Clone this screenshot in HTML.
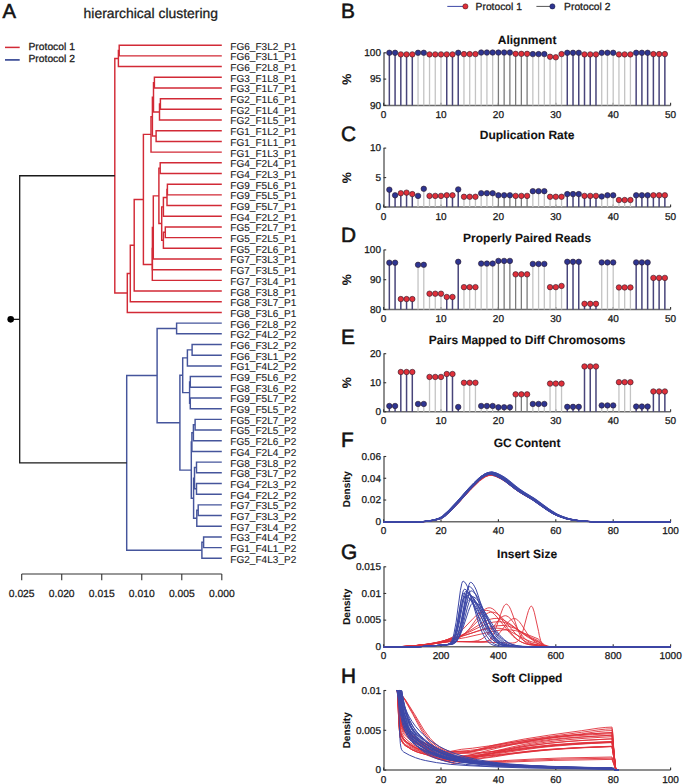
<!DOCTYPE html>
<html><head><meta charset="utf-8"><style>
html,body{margin:0;padding:0;background:#fff;}
body{width:685px;height:784px;overflow:hidden;font-family:"Liberation Sans",sans-serif;}
svg{display:block;}
</style></head><body>
<svg width="685" height="784" viewBox="0 0 685 784"><style>text{text-rendering:geometricPrecision;stroke:#1a1a1a;stroke-width:0.28px} text[font-weight=bold]{stroke-width:0.1px} .lab text{stroke-width:0.1px}</style><path d="M118.40,58.56H114.80V292.98H127.30" fill="none" stroke="#d22a36" stroke-width="1.45"/>
<path d="M119.20,50.55H118.40V66.58H221.80" fill="none" stroke="#d22a36" stroke-width="1.45"/>
<path d="M221.80,45.20H119.20V55.89H221.80" fill="none" stroke="#d22a36" stroke-width="1.45"/>
<path d="M130.30,273.51H127.30V312.45H221.80" fill="none" stroke="#d22a36" stroke-width="1.45"/>
<path d="M134.20,245.25H130.30V301.76H221.80" fill="none" stroke="#d22a36" stroke-width="1.45"/>
<path d="M143.40,199.43H134.20V291.07H221.80" fill="none" stroke="#d22a36" stroke-width="1.45"/>
<path d="M151.00,134.39H143.40V264.47H152.30" fill="none" stroke="#d22a36" stroke-width="1.45"/>
<path d="M152.40,116.69H151.00V152.10H221.80" fill="none" stroke="#d22a36" stroke-width="1.45"/>
<path d="M153.50,97.31H152.40V136.06H156.10" fill="none" stroke="#d22a36" stroke-width="1.45"/>
<path d="M154.40,82.62H153.50V112.01H159.50" fill="none" stroke="#d22a36" stroke-width="1.45"/>
<path d="M221.80,77.27H154.40V87.96H221.80" fill="none" stroke="#d22a36" stroke-width="1.45"/>
<path d="M160.40,104.00H159.50V120.03H221.80" fill="none" stroke="#d22a36" stroke-width="1.45"/>
<path d="M221.80,98.65H160.40V109.34H221.80" fill="none" stroke="#d22a36" stroke-width="1.45"/>
<path d="M221.80,130.72H156.10V141.41H221.80" fill="none" stroke="#d22a36" stroke-width="1.45"/>
<path d="M152.40,248.56H152.30V280.38H221.80" fill="none" stroke="#d22a36" stroke-width="1.45"/>
<path d="M153.30,227.43H152.40V269.69H221.80" fill="none" stroke="#d22a36" stroke-width="1.45"/>
<path d="M158.90,195.86H153.30V259.00H221.80" fill="none" stroke="#d22a36" stroke-width="1.45"/>
<path d="M160.20,168.13H158.90V223.59H161.70" fill="none" stroke="#d22a36" stroke-width="1.45"/>
<path d="M221.80,162.79H160.20V173.48H221.80" fill="none" stroke="#d22a36" stroke-width="1.45"/>
<path d="M163.40,206.89H161.70V240.29H163.40" fill="none" stroke="#d22a36" stroke-width="1.45"/>
<path d="M167.00,197.53H163.40V216.24H221.80" fill="none" stroke="#d22a36" stroke-width="1.45"/>
<path d="M167.40,189.52H167.00V205.55H221.80" fill="none" stroke="#d22a36" stroke-width="1.45"/>
<path d="M221.80,184.17H167.40V194.86H221.80" fill="none" stroke="#d22a36" stroke-width="1.45"/>
<path d="M165.30,232.28H163.40V248.31H221.80" fill="none" stroke="#d22a36" stroke-width="1.45"/>
<path d="M221.80,226.93H165.30V237.62H221.80" fill="none" stroke="#d22a36" stroke-width="1.45"/>
<path d="M157.10,375.59H126.70V550.30H201.90" fill="none" stroke="#45559c" stroke-width="1.45"/>
<path d="M176.60,328.49H157.10V422.69H179.90" fill="none" stroke="#45559c" stroke-width="1.45"/>
<path d="M221.80,323.14H176.60V333.83H221.80" fill="none" stroke="#45559c" stroke-width="1.45"/>
<path d="M182.70,375.25H179.90V470.13H191.30" fill="none" stroke="#45559c" stroke-width="1.45"/>
<path d="M187.40,357.88H182.70V392.62H189.60" fill="none" stroke="#45559c" stroke-width="1.45"/>
<path d="M192.10,349.87H187.40V365.90H221.80" fill="none" stroke="#45559c" stroke-width="1.45"/>
<path d="M221.80,344.52H192.10V355.21H221.80" fill="none" stroke="#45559c" stroke-width="1.45"/>
<path d="M190.30,381.93H189.60V403.31H190.30" fill="none" stroke="#45559c" stroke-width="1.45"/>
<path d="M221.80,376.59H190.30V387.28H221.80" fill="none" stroke="#45559c" stroke-width="1.45"/>
<path d="M221.80,397.97H190.30V408.66H221.80" fill="none" stroke="#45559c" stroke-width="1.45"/>
<path d="M191.90,442.07H191.30V498.19H193.60" fill="none" stroke="#45559c" stroke-width="1.45"/>
<path d="M193.40,432.71H191.90V451.42H221.80" fill="none" stroke="#45559c" stroke-width="1.45"/>
<path d="M195.10,424.69H193.40V440.73H221.80" fill="none" stroke="#45559c" stroke-width="1.45"/>
<path d="M221.80,419.35H195.10V430.04H221.80" fill="none" stroke="#45559c" stroke-width="1.45"/>
<path d="M194.50,478.14H193.60V518.23H196.80" fill="none" stroke="#45559c" stroke-width="1.45"/>
<path d="M196.50,467.45H194.50V488.83H196.50" fill="none" stroke="#45559c" stroke-width="1.45"/>
<path d="M221.80,462.11H196.50V472.80H221.80" fill="none" stroke="#45559c" stroke-width="1.45"/>
<path d="M221.80,483.49H196.50V494.18H221.80" fill="none" stroke="#45559c" stroke-width="1.45"/>
<path d="M198.20,510.21H196.80V526.25H221.80" fill="none" stroke="#45559c" stroke-width="1.45"/>
<path d="M221.80,504.87H198.20V515.56H221.80" fill="none" stroke="#45559c" stroke-width="1.45"/>
<path d="M203.60,542.28H201.90V558.32H221.80" fill="none" stroke="#45559c" stroke-width="1.45"/>
<path d="M221.80,536.94H203.60V547.63H221.80" fill="none" stroke="#45559c" stroke-width="1.45"/>
<path d="M114.80,175.77H19.7V462.95H126.70" fill="none" stroke="#1a1a1a" stroke-width="1.3"/>
<line x1="10.70" y1="319.36" x2="19.70" y2="319.36" stroke="#1a1a1a" stroke-width="1.3"/>
<circle cx="10.7" cy="319.36" r="3.3" fill="#000"/>
<g class="lab" font-family="Liberation Sans, sans-serif" font-size="10" fill="#222"><text x="230.3" y="49.65" textLength="66" lengthAdjust="spacingAndGlyphs">FG6_F3L2_P1</text><text x="230.3" y="60.34" textLength="66" lengthAdjust="spacingAndGlyphs">FG6_F3L1_P1</text><text x="230.3" y="71.03" textLength="66" lengthAdjust="spacingAndGlyphs">FG6_F2L8_P1</text><text x="230.3" y="81.72" textLength="66" lengthAdjust="spacingAndGlyphs">FG3_F1L8_P1</text><text x="230.3" y="92.41" textLength="66" lengthAdjust="spacingAndGlyphs">FG3_F1L7_P1</text><text x="230.3" y="103.10" textLength="66" lengthAdjust="spacingAndGlyphs">FG2_F1L6_P1</text><text x="230.3" y="113.79" textLength="66" lengthAdjust="spacingAndGlyphs">FG2_F1L4_P1</text><text x="230.3" y="124.48" textLength="66" lengthAdjust="spacingAndGlyphs">FG2_F1L5_P1</text><text x="230.3" y="135.17" textLength="66" lengthAdjust="spacingAndGlyphs">FG1_F1L2_P1</text><text x="230.3" y="145.86" textLength="66" lengthAdjust="spacingAndGlyphs">FG1_F1L1_P1</text><text x="230.3" y="156.55" textLength="66" lengthAdjust="spacingAndGlyphs">FG1_F1L3_P1</text><text x="230.3" y="167.24" textLength="66" lengthAdjust="spacingAndGlyphs">FG4_F2L4_P1</text><text x="230.3" y="177.93" textLength="66" lengthAdjust="spacingAndGlyphs">FG4_F2L3_P1</text><text x="230.3" y="188.62" textLength="66" lengthAdjust="spacingAndGlyphs">FG9_F5L6_P1</text><text x="230.3" y="199.31" textLength="66" lengthAdjust="spacingAndGlyphs">FG9_F5L5_P1</text><text x="230.3" y="210.00" textLength="66" lengthAdjust="spacingAndGlyphs">FG9_F5L7_P1</text><text x="230.3" y="220.69" textLength="66" lengthAdjust="spacingAndGlyphs">FG4_F2L2_P1</text><text x="230.3" y="231.38" textLength="66" lengthAdjust="spacingAndGlyphs">FG5_F2L7_P1</text><text x="230.3" y="242.07" textLength="66" lengthAdjust="spacingAndGlyphs">FG5_F2L5_P1</text><text x="230.3" y="252.76" textLength="66" lengthAdjust="spacingAndGlyphs">FG5_F2L6_P1</text><text x="230.3" y="263.45" textLength="66" lengthAdjust="spacingAndGlyphs">FG7_F3L3_P1</text><text x="230.3" y="274.14" textLength="66" lengthAdjust="spacingAndGlyphs">FG7_F3L5_P1</text><text x="230.3" y="284.83" textLength="66" lengthAdjust="spacingAndGlyphs">FG7_F3L4_P1</text><text x="230.3" y="295.52" textLength="66" lengthAdjust="spacingAndGlyphs">FG8_F3L8_P1</text><text x="230.3" y="306.21" textLength="66" lengthAdjust="spacingAndGlyphs">FG8_F3L7_P1</text><text x="230.3" y="316.90" textLength="66" lengthAdjust="spacingAndGlyphs">FG8_F3L6_P1</text><text x="230.3" y="327.59" textLength="66" lengthAdjust="spacingAndGlyphs">FG6_F2L8_P2</text><text x="230.3" y="338.28" textLength="66" lengthAdjust="spacingAndGlyphs">FG2_F4L2_P2</text><text x="230.3" y="348.97" textLength="66" lengthAdjust="spacingAndGlyphs">FG6_F3L2_P2</text><text x="230.3" y="359.66" textLength="66" lengthAdjust="spacingAndGlyphs">FG6_F3L1_P2</text><text x="230.3" y="370.35" textLength="66" lengthAdjust="spacingAndGlyphs">FG1_F4L2_P2</text><text x="230.3" y="381.04" textLength="66" lengthAdjust="spacingAndGlyphs">FG9_F5L6_P2</text><text x="230.3" y="391.73" textLength="66" lengthAdjust="spacingAndGlyphs">FG8_F3L6_P2</text><text x="230.3" y="402.42" textLength="66" lengthAdjust="spacingAndGlyphs">FG9_F5L7_P2</text><text x="230.3" y="413.11" textLength="66" lengthAdjust="spacingAndGlyphs">FG9_F5L5_P2</text><text x="230.3" y="423.80" textLength="66" lengthAdjust="spacingAndGlyphs">FG5_F2L7_P2</text><text x="230.3" y="434.49" textLength="66" lengthAdjust="spacingAndGlyphs">FG5_F2L5_P2</text><text x="230.3" y="445.18" textLength="66" lengthAdjust="spacingAndGlyphs">FG5_F2L6_P2</text><text x="230.3" y="455.87" textLength="66" lengthAdjust="spacingAndGlyphs">FG4_F2L4_P2</text><text x="230.3" y="466.56" textLength="66" lengthAdjust="spacingAndGlyphs">FG8_F3L8_P2</text><text x="230.3" y="477.25" textLength="66" lengthAdjust="spacingAndGlyphs">FG8_F3L7_P2</text><text x="230.3" y="487.94" textLength="66" lengthAdjust="spacingAndGlyphs">FG4_F2L3_P2</text><text x="230.3" y="498.63" textLength="66" lengthAdjust="spacingAndGlyphs">FG4_F2L2_P2</text><text x="230.3" y="509.32" textLength="66" lengthAdjust="spacingAndGlyphs">FG7_F3L5_P2</text><text x="230.3" y="520.01" textLength="66" lengthAdjust="spacingAndGlyphs">FG7_F3L3_P2</text><text x="230.3" y="530.70" textLength="66" lengthAdjust="spacingAndGlyphs">FG7_F3L4_P2</text><text x="230.3" y="541.39" textLength="66" lengthAdjust="spacingAndGlyphs">FG3_F4L4_P2</text><text x="230.3" y="552.08" textLength="66" lengthAdjust="spacingAndGlyphs">FG1_F4L1_P2</text><text x="230.3" y="562.77" textLength="66" lengthAdjust="spacingAndGlyphs">FG2_F4L3_P2</text></g>
<line x1="21.70" y1="574.00" x2="221.80" y2="574.00" stroke="#333333" stroke-width="1.1"/>
<line x1="21.70" y1="574.00" x2="21.70" y2="580.20" stroke="#333333" stroke-width="1.1"/>
<text x="21.70" y="596.5" text-anchor="middle" font-family="Liberation Sans, sans-serif" font-size="10.3" fill="#222">0.025</text>
<line x1="61.72" y1="574.00" x2="61.72" y2="580.20" stroke="#333333" stroke-width="1.1"/>
<text x="61.72" y="596.5" text-anchor="middle" font-family="Liberation Sans, sans-serif" font-size="10.3" fill="#222">0.020</text>
<line x1="101.74" y1="574.00" x2="101.74" y2="580.20" stroke="#333333" stroke-width="1.1"/>
<text x="101.74" y="596.5" text-anchor="middle" font-family="Liberation Sans, sans-serif" font-size="10.3" fill="#222">0.015</text>
<line x1="141.76" y1="574.00" x2="141.76" y2="580.20" stroke="#333333" stroke-width="1.1"/>
<text x="141.76" y="596.5" text-anchor="middle" font-family="Liberation Sans, sans-serif" font-size="10.3" fill="#222">0.010</text>
<line x1="181.78" y1="574.00" x2="181.78" y2="580.20" stroke="#333333" stroke-width="1.1"/>
<text x="181.78" y="596.5" text-anchor="middle" font-family="Liberation Sans, sans-serif" font-size="10.3" fill="#222">0.005</text>
<line x1="221.80" y1="574.00" x2="221.80" y2="580.20" stroke="#333333" stroke-width="1.1"/>
<text x="221.80" y="596.5" text-anchor="middle" font-family="Liberation Sans, sans-serif" font-size="10.3" fill="#222">0.000</text>
<text x="2.5" y="18.3" font-family="Liberation Sans, sans-serif" font-size="20.2" fill="#111" style="stroke-width:0.6px">A</text>
<text x="83.6" y="17.5" font-family="Liberation Sans, sans-serif" font-size="13.9" fill="#222">hierarchical clustering</text>
<line x1="5.00" y1="47.40" x2="19.70" y2="47.40" stroke="#d22a36" stroke-width="1.5"/>
<line x1="5.00" y1="59.90" x2="19.70" y2="59.90" stroke="#45559c" stroke-width="1.8"/>
<text x="28.5" y="49.5" font-family="Liberation Sans, sans-serif" font-size="10.3" fill="#222">Protocol 1</text>
<text x="28.5" y="62" font-family="Liberation Sans, sans-serif" font-size="10.3" fill="#222">Protocol 2</text>
<path d="M384.0,52.8V105.4H670.6" fill="none" stroke="#6a6a6a" stroke-width="1.5"/>
<line x1="383.60" y1="52.80" x2="386.20" y2="52.80" stroke="#333333" stroke-width="1.1"/>
<text x="381.00" y="56.10" text-anchor="end" font-family="Liberation Sans, sans-serif" font-size="10" fill="#222">100</text>
<line x1="383.60" y1="79.10" x2="386.20" y2="79.10" stroke="#333333" stroke-width="1.1"/>
<text x="381.00" y="82.40" text-anchor="end" font-family="Liberation Sans, sans-serif" font-size="10" fill="#222">95</text>
<line x1="383.60" y1="105.40" x2="386.20" y2="105.40" stroke="#333333" stroke-width="1.1"/>
<text x="381.00" y="108.70" text-anchor="end" font-family="Liberation Sans, sans-serif" font-size="10" fill="#222">90</text>
<line x1="383.60" y1="105.40" x2="383.60" y2="102.80" stroke="#333333" stroke-width="1.1"/>
<text x="383.60" y="117.80" text-anchor="middle" font-family="Liberation Sans, sans-serif" font-size="10" fill="#222">0</text>
<line x1="441.00" y1="105.40" x2="441.00" y2="102.80" stroke="#333333" stroke-width="1.1"/>
<text x="441.00" y="117.80" text-anchor="middle" font-family="Liberation Sans, sans-serif" font-size="10" fill="#222">10</text>
<line x1="498.40" y1="105.40" x2="498.40" y2="102.80" stroke="#333333" stroke-width="1.1"/>
<text x="498.40" y="117.80" text-anchor="middle" font-family="Liberation Sans, sans-serif" font-size="10" fill="#222">20</text>
<line x1="555.80" y1="105.40" x2="555.80" y2="102.80" stroke="#333333" stroke-width="1.1"/>
<text x="555.80" y="117.80" text-anchor="middle" font-family="Liberation Sans, sans-serif" font-size="10" fill="#222">30</text>
<line x1="613.20" y1="105.40" x2="613.20" y2="102.80" stroke="#333333" stroke-width="1.1"/>
<text x="613.20" y="117.80" text-anchor="middle" font-family="Liberation Sans, sans-serif" font-size="10" fill="#222">40</text>
<line x1="670.60" y1="105.40" x2="670.60" y2="102.80" stroke="#333333" stroke-width="1.1"/>
<text x="670.60" y="117.80" text-anchor="middle" font-family="Liberation Sans, sans-serif" font-size="10" fill="#222">50</text>
<text x="527.10" y="43.9" text-anchor="middle" font-family="Liberation Sans, sans-serif" font-size="12" font-weight="bold" fill="#111">Alignment</text>
<text x="341" y="17.8" font-family="Liberation Sans, sans-serif" font-size="20.8" fill="#111" style="stroke-width:0.6px">B</text>
<text transform="translate(351.3,79.10) rotate(-90)" text-anchor="middle" font-family="Liberation Sans, sans-serif" font-size="12.5" font-weight="bold" fill="#111">%</text>
<line x1="389.34" y1="52.80" x2="389.34" y2="105.40" stroke="#48457a" stroke-width="1.5"/>
<line x1="395.08" y1="52.80" x2="395.08" y2="105.40" stroke="#48457a" stroke-width="1.5"/>
<line x1="400.82" y1="54.38" x2="400.82" y2="105.40" stroke="#48457a" stroke-width="1.5"/>
<line x1="406.56" y1="54.38" x2="406.56" y2="105.40" stroke="#48457a" stroke-width="1.5"/>
<line x1="412.30" y1="54.38" x2="412.30" y2="105.40" stroke="#48457a" stroke-width="1.5"/>
<line x1="418.04" y1="52.80" x2="418.04" y2="105.40" stroke="#c4c4c4" stroke-width="1.3"/>
<line x1="423.78" y1="52.80" x2="423.78" y2="105.40" stroke="#c4c4c4" stroke-width="1.3"/>
<line x1="429.52" y1="54.38" x2="429.52" y2="105.40" stroke="#c4c4c4" stroke-width="1.3"/>
<line x1="435.26" y1="54.38" x2="435.26" y2="105.40" stroke="#c4c4c4" stroke-width="1.3"/>
<line x1="441.00" y1="54.38" x2="441.00" y2="105.40" stroke="#c4c4c4" stroke-width="1.3"/>
<line x1="446.74" y1="54.38" x2="446.74" y2="105.40" stroke="#48457a" stroke-width="1.5"/>
<line x1="452.48" y1="54.38" x2="452.48" y2="105.40" stroke="#48457a" stroke-width="1.5"/>
<line x1="458.22" y1="52.80" x2="458.22" y2="105.40" stroke="#48457a" stroke-width="1.5"/>
<line x1="463.96" y1="54.12" x2="463.96" y2="105.40" stroke="#c4c4c4" stroke-width="1.3"/>
<line x1="469.70" y1="54.12" x2="469.70" y2="105.40" stroke="#c4c4c4" stroke-width="1.3"/>
<line x1="475.44" y1="54.12" x2="475.44" y2="105.40" stroke="#c4c4c4" stroke-width="1.3"/>
<line x1="481.18" y1="52.54" x2="481.18" y2="105.40" stroke="#c4c4c4" stroke-width="1.3"/>
<line x1="486.92" y1="52.54" x2="486.92" y2="105.40" stroke="#c4c4c4" stroke-width="1.3"/>
<line x1="492.66" y1="52.54" x2="492.66" y2="105.40" stroke="#c4c4c4" stroke-width="1.3"/>
<line x1="498.40" y1="52.54" x2="498.40" y2="105.40" stroke="#7c7c7c" stroke-width="1.3"/>
<line x1="504.14" y1="52.54" x2="504.14" y2="105.40" stroke="#7c7c7c" stroke-width="1.3"/>
<line x1="509.88" y1="52.54" x2="509.88" y2="105.40" stroke="#7c7c7c" stroke-width="1.3"/>
<line x1="515.62" y1="53.85" x2="515.62" y2="105.40" stroke="#7c7c7c" stroke-width="1.3"/>
<line x1="521.36" y1="53.85" x2="521.36" y2="105.40" stroke="#7c7c7c" stroke-width="1.3"/>
<line x1="527.10" y1="53.85" x2="527.10" y2="105.40" stroke="#7c7c7c" stroke-width="1.3"/>
<line x1="532.84" y1="54.12" x2="532.84" y2="105.40" stroke="#c4c4c4" stroke-width="1.3"/>
<line x1="538.58" y1="54.12" x2="538.58" y2="105.40" stroke="#c4c4c4" stroke-width="1.3"/>
<line x1="544.32" y1="54.12" x2="544.32" y2="105.40" stroke="#c4c4c4" stroke-width="1.3"/>
<line x1="550.06" y1="56.74" x2="550.06" y2="105.40" stroke="#c4c4c4" stroke-width="1.3"/>
<line x1="555.80" y1="57.27" x2="555.80" y2="105.40" stroke="#c4c4c4" stroke-width="1.3"/>
<line x1="561.54" y1="54.12" x2="561.54" y2="105.40" stroke="#c4c4c4" stroke-width="1.3"/>
<line x1="567.28" y1="52.80" x2="567.28" y2="105.40" stroke="#48457a" stroke-width="1.5"/>
<line x1="573.02" y1="52.80" x2="573.02" y2="105.40" stroke="#48457a" stroke-width="1.5"/>
<line x1="578.76" y1="52.80" x2="578.76" y2="105.40" stroke="#48457a" stroke-width="1.5"/>
<line x1="584.50" y1="54.38" x2="584.50" y2="105.40" stroke="#48457a" stroke-width="1.5"/>
<line x1="590.24" y1="54.38" x2="590.24" y2="105.40" stroke="#48457a" stroke-width="1.5"/>
<line x1="595.98" y1="54.38" x2="595.98" y2="105.40" stroke="#48457a" stroke-width="1.5"/>
<line x1="601.72" y1="52.80" x2="601.72" y2="105.40" stroke="#c4c4c4" stroke-width="1.3"/>
<line x1="607.46" y1="52.80" x2="607.46" y2="105.40" stroke="#c4c4c4" stroke-width="1.3"/>
<line x1="613.20" y1="52.80" x2="613.20" y2="105.40" stroke="#c4c4c4" stroke-width="1.3"/>
<line x1="618.94" y1="54.38" x2="618.94" y2="105.40" stroke="#c4c4c4" stroke-width="1.3"/>
<line x1="624.68" y1="54.38" x2="624.68" y2="105.40" stroke="#c4c4c4" stroke-width="1.3"/>
<line x1="630.42" y1="54.38" x2="630.42" y2="105.40" stroke="#c4c4c4" stroke-width="1.3"/>
<line x1="636.16" y1="52.80" x2="636.16" y2="105.40" stroke="#48457a" stroke-width="1.5"/>
<line x1="641.90" y1="52.80" x2="641.90" y2="105.40" stroke="#48457a" stroke-width="1.5"/>
<line x1="647.64" y1="52.80" x2="647.64" y2="105.40" stroke="#48457a" stroke-width="1.5"/>
<line x1="653.38" y1="54.12" x2="653.38" y2="105.40" stroke="#48457a" stroke-width="1.5"/>
<line x1="659.12" y1="54.12" x2="659.12" y2="105.40" stroke="#48457a" stroke-width="1.5"/>
<line x1="664.86" y1="54.12" x2="664.86" y2="105.40" stroke="#48457a" stroke-width="1.5"/>
<circle cx="389.34" cy="52.80" r="2.75" fill="#2e3591" stroke="#2a1a2a" stroke-width="0.6"/>
<circle cx="395.08" cy="52.80" r="2.75" fill="#2e3591" stroke="#2a1a2a" stroke-width="0.6"/>
<circle cx="400.82" cy="54.38" r="2.75" fill="#e0303a" stroke="#2a1a2a" stroke-width="0.6"/>
<circle cx="406.56" cy="54.38" r="2.75" fill="#e0303a" stroke="#2a1a2a" stroke-width="0.6"/>
<circle cx="412.30" cy="54.38" r="2.75" fill="#e0303a" stroke="#2a1a2a" stroke-width="0.6"/>
<circle cx="418.04" cy="52.80" r="2.75" fill="#2e3591" stroke="#2a1a2a" stroke-width="0.6"/>
<circle cx="423.78" cy="52.80" r="2.75" fill="#2e3591" stroke="#2a1a2a" stroke-width="0.6"/>
<circle cx="429.52" cy="54.38" r="2.75" fill="#e0303a" stroke="#2a1a2a" stroke-width="0.6"/>
<circle cx="435.26" cy="54.38" r="2.75" fill="#e0303a" stroke="#2a1a2a" stroke-width="0.6"/>
<circle cx="441.00" cy="54.38" r="2.75" fill="#e0303a" stroke="#2a1a2a" stroke-width="0.6"/>
<circle cx="446.74" cy="54.38" r="2.75" fill="#e0303a" stroke="#2a1a2a" stroke-width="0.6"/>
<circle cx="452.48" cy="54.38" r="2.75" fill="#e0303a" stroke="#2a1a2a" stroke-width="0.6"/>
<circle cx="458.22" cy="52.80" r="2.75" fill="#2e3591" stroke="#2a1a2a" stroke-width="0.6"/>
<circle cx="463.96" cy="54.12" r="2.75" fill="#e0303a" stroke="#2a1a2a" stroke-width="0.6"/>
<circle cx="469.70" cy="54.12" r="2.75" fill="#e0303a" stroke="#2a1a2a" stroke-width="0.6"/>
<circle cx="475.44" cy="54.12" r="2.75" fill="#e0303a" stroke="#2a1a2a" stroke-width="0.6"/>
<circle cx="481.18" cy="52.54" r="2.75" fill="#2e3591" stroke="#2a1a2a" stroke-width="0.6"/>
<circle cx="486.92" cy="52.54" r="2.75" fill="#2e3591" stroke="#2a1a2a" stroke-width="0.6"/>
<circle cx="492.66" cy="52.54" r="2.75" fill="#2e3591" stroke="#2a1a2a" stroke-width="0.6"/>
<circle cx="498.40" cy="52.54" r="2.75" fill="#2e3591" stroke="#2a1a2a" stroke-width="0.6"/>
<circle cx="504.14" cy="52.54" r="2.75" fill="#2e3591" stroke="#2a1a2a" stroke-width="0.6"/>
<circle cx="509.88" cy="52.54" r="2.75" fill="#2e3591" stroke="#2a1a2a" stroke-width="0.6"/>
<circle cx="515.62" cy="53.85" r="2.75" fill="#e0303a" stroke="#2a1a2a" stroke-width="0.6"/>
<circle cx="521.36" cy="53.85" r="2.75" fill="#e0303a" stroke="#2a1a2a" stroke-width="0.6"/>
<circle cx="527.10" cy="53.85" r="2.75" fill="#e0303a" stroke="#2a1a2a" stroke-width="0.6"/>
<circle cx="532.84" cy="54.12" r="2.75" fill="#2e3591" stroke="#2a1a2a" stroke-width="0.6"/>
<circle cx="538.58" cy="54.12" r="2.75" fill="#2e3591" stroke="#2a1a2a" stroke-width="0.6"/>
<circle cx="544.32" cy="54.12" r="2.75" fill="#2e3591" stroke="#2a1a2a" stroke-width="0.6"/>
<circle cx="550.06" cy="56.74" r="2.75" fill="#e0303a" stroke="#2a1a2a" stroke-width="0.6"/>
<circle cx="555.80" cy="57.27" r="2.75" fill="#e0303a" stroke="#2a1a2a" stroke-width="0.6"/>
<circle cx="561.54" cy="54.12" r="2.75" fill="#e0303a" stroke="#2a1a2a" stroke-width="0.6"/>
<circle cx="567.28" cy="52.80" r="2.75" fill="#2e3591" stroke="#2a1a2a" stroke-width="0.6"/>
<circle cx="573.02" cy="52.80" r="2.75" fill="#2e3591" stroke="#2a1a2a" stroke-width="0.6"/>
<circle cx="578.76" cy="52.80" r="2.75" fill="#2e3591" stroke="#2a1a2a" stroke-width="0.6"/>
<circle cx="584.50" cy="54.38" r="2.75" fill="#e0303a" stroke="#2a1a2a" stroke-width="0.6"/>
<circle cx="590.24" cy="54.38" r="2.75" fill="#e0303a" stroke="#2a1a2a" stroke-width="0.6"/>
<circle cx="595.98" cy="54.38" r="2.75" fill="#e0303a" stroke="#2a1a2a" stroke-width="0.6"/>
<circle cx="601.72" cy="52.80" r="2.75" fill="#2e3591" stroke="#2a1a2a" stroke-width="0.6"/>
<circle cx="607.46" cy="52.80" r="2.75" fill="#2e3591" stroke="#2a1a2a" stroke-width="0.6"/>
<circle cx="613.20" cy="52.80" r="2.75" fill="#2e3591" stroke="#2a1a2a" stroke-width="0.6"/>
<circle cx="618.94" cy="54.38" r="2.75" fill="#e0303a" stroke="#2a1a2a" stroke-width="0.6"/>
<circle cx="624.68" cy="54.38" r="2.75" fill="#e0303a" stroke="#2a1a2a" stroke-width="0.6"/>
<circle cx="630.42" cy="54.38" r="2.75" fill="#e0303a" stroke="#2a1a2a" stroke-width="0.6"/>
<circle cx="636.16" cy="52.80" r="2.75" fill="#2e3591" stroke="#2a1a2a" stroke-width="0.6"/>
<circle cx="641.90" cy="52.80" r="2.75" fill="#2e3591" stroke="#2a1a2a" stroke-width="0.6"/>
<circle cx="647.64" cy="52.80" r="2.75" fill="#2e3591" stroke="#2a1a2a" stroke-width="0.6"/>
<circle cx="653.38" cy="54.12" r="2.75" fill="#e0303a" stroke="#2a1a2a" stroke-width="0.6"/>
<circle cx="659.12" cy="54.12" r="2.75" fill="#e0303a" stroke="#2a1a2a" stroke-width="0.6"/>
<circle cx="664.86" cy="54.12" r="2.75" fill="#e0303a" stroke="#2a1a2a" stroke-width="0.6"/>
<path d="M384.0,148.1V207.1H670.6" fill="none" stroke="#6a6a6a" stroke-width="1.5"/>
<line x1="383.60" y1="148.10" x2="386.20" y2="148.10" stroke="#333333" stroke-width="1.1"/>
<text x="381.00" y="151.40" text-anchor="end" font-family="Liberation Sans, sans-serif" font-size="10" fill="#222">10</text>
<line x1="383.60" y1="177.60" x2="386.20" y2="177.60" stroke="#333333" stroke-width="1.1"/>
<text x="381.00" y="180.90" text-anchor="end" font-family="Liberation Sans, sans-serif" font-size="10" fill="#222">5</text>
<line x1="383.60" y1="207.10" x2="386.20" y2="207.10" stroke="#333333" stroke-width="1.1"/>
<text x="381.00" y="210.40" text-anchor="end" font-family="Liberation Sans, sans-serif" font-size="10" fill="#222">0</text>
<line x1="383.60" y1="207.10" x2="383.60" y2="204.50" stroke="#333333" stroke-width="1.1"/>
<text x="383.60" y="219.50" text-anchor="middle" font-family="Liberation Sans, sans-serif" font-size="10" fill="#222">0</text>
<line x1="441.00" y1="207.10" x2="441.00" y2="204.50" stroke="#333333" stroke-width="1.1"/>
<text x="441.00" y="219.50" text-anchor="middle" font-family="Liberation Sans, sans-serif" font-size="10" fill="#222">10</text>
<line x1="498.40" y1="207.10" x2="498.40" y2="204.50" stroke="#333333" stroke-width="1.1"/>
<text x="498.40" y="219.50" text-anchor="middle" font-family="Liberation Sans, sans-serif" font-size="10" fill="#222">20</text>
<line x1="555.80" y1="207.10" x2="555.80" y2="204.50" stroke="#333333" stroke-width="1.1"/>
<text x="555.80" y="219.50" text-anchor="middle" font-family="Liberation Sans, sans-serif" font-size="10" fill="#222">30</text>
<line x1="613.20" y1="207.10" x2="613.20" y2="204.50" stroke="#333333" stroke-width="1.1"/>
<text x="613.20" y="219.50" text-anchor="middle" font-family="Liberation Sans, sans-serif" font-size="10" fill="#222">40</text>
<line x1="670.60" y1="207.10" x2="670.60" y2="204.50" stroke="#333333" stroke-width="1.1"/>
<text x="670.60" y="219.50" text-anchor="middle" font-family="Liberation Sans, sans-serif" font-size="10" fill="#222">50</text>
<text x="527.10" y="139.2" text-anchor="middle" font-family="Liberation Sans, sans-serif" font-size="12" font-weight="bold" fill="#111">Duplication Rate</text>
<text x="341" y="141.2" font-family="Liberation Sans, sans-serif" font-size="20.8" fill="#111" style="stroke-width:0.6px">C</text>
<text transform="translate(351.3,177.60) rotate(-90)" text-anchor="middle" font-family="Liberation Sans, sans-serif" font-size="12.5" font-weight="bold" fill="#111">%</text>
<line x1="389.34" y1="189.69" x2="389.34" y2="207.10" stroke="#48457a" stroke-width="1.5"/>
<line x1="395.08" y1="195.30" x2="395.08" y2="207.10" stroke="#48457a" stroke-width="1.5"/>
<line x1="400.82" y1="193.23" x2="400.82" y2="207.10" stroke="#48457a" stroke-width="1.5"/>
<line x1="406.56" y1="192.64" x2="406.56" y2="207.10" stroke="#48457a" stroke-width="1.5"/>
<line x1="412.30" y1="194.12" x2="412.30" y2="207.10" stroke="#48457a" stroke-width="1.5"/>
<line x1="418.04" y1="195.89" x2="418.04" y2="207.10" stroke="#c4c4c4" stroke-width="1.3"/>
<line x1="423.78" y1="188.81" x2="423.78" y2="207.10" stroke="#c4c4c4" stroke-width="1.3"/>
<line x1="429.52" y1="195.89" x2="429.52" y2="207.10" stroke="#c4c4c4" stroke-width="1.3"/>
<line x1="435.26" y1="195.89" x2="435.26" y2="207.10" stroke="#c4c4c4" stroke-width="1.3"/>
<line x1="441.00" y1="195.89" x2="441.00" y2="207.10" stroke="#c4c4c4" stroke-width="1.3"/>
<line x1="446.74" y1="195.30" x2="446.74" y2="207.10" stroke="#48457a" stroke-width="1.5"/>
<line x1="452.48" y1="195.30" x2="452.48" y2="207.10" stroke="#48457a" stroke-width="1.5"/>
<line x1="458.22" y1="189.40" x2="458.22" y2="207.10" stroke="#48457a" stroke-width="1.5"/>
<line x1="463.96" y1="196.78" x2="463.96" y2="207.10" stroke="#c4c4c4" stroke-width="1.3"/>
<line x1="469.70" y1="196.78" x2="469.70" y2="207.10" stroke="#c4c4c4" stroke-width="1.3"/>
<line x1="475.44" y1="196.78" x2="475.44" y2="207.10" stroke="#c4c4c4" stroke-width="1.3"/>
<line x1="481.18" y1="193.23" x2="481.18" y2="207.10" stroke="#c4c4c4" stroke-width="1.3"/>
<line x1="486.92" y1="193.23" x2="486.92" y2="207.10" stroke="#c4c4c4" stroke-width="1.3"/>
<line x1="492.66" y1="193.23" x2="492.66" y2="207.10" stroke="#c4c4c4" stroke-width="1.3"/>
<line x1="498.40" y1="195.30" x2="498.40" y2="207.10" stroke="#7c7c7c" stroke-width="1.3"/>
<line x1="504.14" y1="195.30" x2="504.14" y2="207.10" stroke="#7c7c7c" stroke-width="1.3"/>
<line x1="509.88" y1="195.30" x2="509.88" y2="207.10" stroke="#7c7c7c" stroke-width="1.3"/>
<line x1="515.62" y1="195.89" x2="515.62" y2="207.10" stroke="#7c7c7c" stroke-width="1.3"/>
<line x1="521.36" y1="195.89" x2="521.36" y2="207.10" stroke="#7c7c7c" stroke-width="1.3"/>
<line x1="527.10" y1="195.89" x2="527.10" y2="207.10" stroke="#7c7c7c" stroke-width="1.3"/>
<line x1="532.84" y1="191.17" x2="532.84" y2="207.10" stroke="#c4c4c4" stroke-width="1.3"/>
<line x1="538.58" y1="191.17" x2="538.58" y2="207.10" stroke="#c4c4c4" stroke-width="1.3"/>
<line x1="544.32" y1="191.17" x2="544.32" y2="207.10" stroke="#c4c4c4" stroke-width="1.3"/>
<line x1="550.06" y1="196.78" x2="550.06" y2="207.10" stroke="#c4c4c4" stroke-width="1.3"/>
<line x1="555.80" y1="196.78" x2="555.80" y2="207.10" stroke="#c4c4c4" stroke-width="1.3"/>
<line x1="561.54" y1="196.78" x2="561.54" y2="207.10" stroke="#c4c4c4" stroke-width="1.3"/>
<line x1="567.28" y1="194.12" x2="567.28" y2="207.10" stroke="#48457a" stroke-width="1.5"/>
<line x1="573.02" y1="194.12" x2="573.02" y2="207.10" stroke="#48457a" stroke-width="1.5"/>
<line x1="578.76" y1="194.12" x2="578.76" y2="207.10" stroke="#48457a" stroke-width="1.5"/>
<line x1="584.50" y1="195.89" x2="584.50" y2="207.10" stroke="#48457a" stroke-width="1.5"/>
<line x1="590.24" y1="195.89" x2="590.24" y2="207.10" stroke="#48457a" stroke-width="1.5"/>
<line x1="595.98" y1="195.89" x2="595.98" y2="207.10" stroke="#48457a" stroke-width="1.5"/>
<line x1="601.72" y1="196.48" x2="601.72" y2="207.10" stroke="#c4c4c4" stroke-width="1.3"/>
<line x1="607.46" y1="195.30" x2="607.46" y2="207.10" stroke="#c4c4c4" stroke-width="1.3"/>
<line x1="613.20" y1="195.30" x2="613.20" y2="207.10" stroke="#c4c4c4" stroke-width="1.3"/>
<line x1="618.94" y1="200.02" x2="618.94" y2="207.10" stroke="#c4c4c4" stroke-width="1.3"/>
<line x1="624.68" y1="200.02" x2="624.68" y2="207.10" stroke="#c4c4c4" stroke-width="1.3"/>
<line x1="630.42" y1="200.02" x2="630.42" y2="207.10" stroke="#c4c4c4" stroke-width="1.3"/>
<line x1="636.16" y1="195.30" x2="636.16" y2="207.10" stroke="#48457a" stroke-width="1.5"/>
<line x1="641.90" y1="195.30" x2="641.90" y2="207.10" stroke="#48457a" stroke-width="1.5"/>
<line x1="647.64" y1="195.30" x2="647.64" y2="207.10" stroke="#48457a" stroke-width="1.5"/>
<line x1="653.38" y1="195.30" x2="653.38" y2="207.10" stroke="#48457a" stroke-width="1.5"/>
<line x1="659.12" y1="195.30" x2="659.12" y2="207.10" stroke="#48457a" stroke-width="1.5"/>
<line x1="664.86" y1="195.30" x2="664.86" y2="207.10" stroke="#48457a" stroke-width="1.5"/>
<circle cx="389.34" cy="189.69" r="2.75" fill="#2e3591" stroke="#2a1a2a" stroke-width="0.6"/>
<circle cx="395.08" cy="195.30" r="2.75" fill="#2e3591" stroke="#2a1a2a" stroke-width="0.6"/>
<circle cx="400.82" cy="193.23" r="2.75" fill="#e0303a" stroke="#2a1a2a" stroke-width="0.6"/>
<circle cx="406.56" cy="192.64" r="2.75" fill="#e0303a" stroke="#2a1a2a" stroke-width="0.6"/>
<circle cx="412.30" cy="194.12" r="2.75" fill="#e0303a" stroke="#2a1a2a" stroke-width="0.6"/>
<circle cx="418.04" cy="195.89" r="2.75" fill="#2e3591" stroke="#2a1a2a" stroke-width="0.6"/>
<circle cx="423.78" cy="188.81" r="2.75" fill="#2e3591" stroke="#2a1a2a" stroke-width="0.6"/>
<circle cx="429.52" cy="195.89" r="2.75" fill="#e0303a" stroke="#2a1a2a" stroke-width="0.6"/>
<circle cx="435.26" cy="195.89" r="2.75" fill="#e0303a" stroke="#2a1a2a" stroke-width="0.6"/>
<circle cx="441.00" cy="195.89" r="2.75" fill="#e0303a" stroke="#2a1a2a" stroke-width="0.6"/>
<circle cx="446.74" cy="195.30" r="2.75" fill="#e0303a" stroke="#2a1a2a" stroke-width="0.6"/>
<circle cx="452.48" cy="195.30" r="2.75" fill="#e0303a" stroke="#2a1a2a" stroke-width="0.6"/>
<circle cx="458.22" cy="189.40" r="2.75" fill="#2e3591" stroke="#2a1a2a" stroke-width="0.6"/>
<circle cx="463.96" cy="196.78" r="2.75" fill="#e0303a" stroke="#2a1a2a" stroke-width="0.6"/>
<circle cx="469.70" cy="196.78" r="2.75" fill="#e0303a" stroke="#2a1a2a" stroke-width="0.6"/>
<circle cx="475.44" cy="196.78" r="2.75" fill="#e0303a" stroke="#2a1a2a" stroke-width="0.6"/>
<circle cx="481.18" cy="193.23" r="2.75" fill="#2e3591" stroke="#2a1a2a" stroke-width="0.6"/>
<circle cx="486.92" cy="193.23" r="2.75" fill="#2e3591" stroke="#2a1a2a" stroke-width="0.6"/>
<circle cx="492.66" cy="193.23" r="2.75" fill="#2e3591" stroke="#2a1a2a" stroke-width="0.6"/>
<circle cx="498.40" cy="195.30" r="2.75" fill="#2e3591" stroke="#2a1a2a" stroke-width="0.6"/>
<circle cx="504.14" cy="195.30" r="2.75" fill="#2e3591" stroke="#2a1a2a" stroke-width="0.6"/>
<circle cx="509.88" cy="195.30" r="2.75" fill="#2e3591" stroke="#2a1a2a" stroke-width="0.6"/>
<circle cx="515.62" cy="195.89" r="2.75" fill="#e0303a" stroke="#2a1a2a" stroke-width="0.6"/>
<circle cx="521.36" cy="195.89" r="2.75" fill="#e0303a" stroke="#2a1a2a" stroke-width="0.6"/>
<circle cx="527.10" cy="195.89" r="2.75" fill="#e0303a" stroke="#2a1a2a" stroke-width="0.6"/>
<circle cx="532.84" cy="191.17" r="2.75" fill="#2e3591" stroke="#2a1a2a" stroke-width="0.6"/>
<circle cx="538.58" cy="191.17" r="2.75" fill="#2e3591" stroke="#2a1a2a" stroke-width="0.6"/>
<circle cx="544.32" cy="191.17" r="2.75" fill="#2e3591" stroke="#2a1a2a" stroke-width="0.6"/>
<circle cx="550.06" cy="196.78" r="2.75" fill="#e0303a" stroke="#2a1a2a" stroke-width="0.6"/>
<circle cx="555.80" cy="196.78" r="2.75" fill="#e0303a" stroke="#2a1a2a" stroke-width="0.6"/>
<circle cx="561.54" cy="196.78" r="2.75" fill="#e0303a" stroke="#2a1a2a" stroke-width="0.6"/>
<circle cx="567.28" cy="194.12" r="2.75" fill="#2e3591" stroke="#2a1a2a" stroke-width="0.6"/>
<circle cx="573.02" cy="194.12" r="2.75" fill="#2e3591" stroke="#2a1a2a" stroke-width="0.6"/>
<circle cx="578.76" cy="194.12" r="2.75" fill="#2e3591" stroke="#2a1a2a" stroke-width="0.6"/>
<circle cx="584.50" cy="195.89" r="2.75" fill="#e0303a" stroke="#2a1a2a" stroke-width="0.6"/>
<circle cx="590.24" cy="195.89" r="2.75" fill="#e0303a" stroke="#2a1a2a" stroke-width="0.6"/>
<circle cx="595.98" cy="195.89" r="2.75" fill="#e0303a" stroke="#2a1a2a" stroke-width="0.6"/>
<circle cx="601.72" cy="196.48" r="2.75" fill="#2e3591" stroke="#2a1a2a" stroke-width="0.6"/>
<circle cx="607.46" cy="195.30" r="2.75" fill="#2e3591" stroke="#2a1a2a" stroke-width="0.6"/>
<circle cx="613.20" cy="195.30" r="2.75" fill="#2e3591" stroke="#2a1a2a" stroke-width="0.6"/>
<circle cx="618.94" cy="200.02" r="2.75" fill="#e0303a" stroke="#2a1a2a" stroke-width="0.6"/>
<circle cx="624.68" cy="200.02" r="2.75" fill="#e0303a" stroke="#2a1a2a" stroke-width="0.6"/>
<circle cx="630.42" cy="200.02" r="2.75" fill="#e0303a" stroke="#2a1a2a" stroke-width="0.6"/>
<circle cx="636.16" cy="195.30" r="2.75" fill="#2e3591" stroke="#2a1a2a" stroke-width="0.6"/>
<circle cx="641.90" cy="195.30" r="2.75" fill="#2e3591" stroke="#2a1a2a" stroke-width="0.6"/>
<circle cx="647.64" cy="195.30" r="2.75" fill="#2e3591" stroke="#2a1a2a" stroke-width="0.6"/>
<circle cx="653.38" cy="195.30" r="2.75" fill="#e0303a" stroke="#2a1a2a" stroke-width="0.6"/>
<circle cx="659.12" cy="195.30" r="2.75" fill="#e0303a" stroke="#2a1a2a" stroke-width="0.6"/>
<circle cx="664.86" cy="195.30" r="2.75" fill="#e0303a" stroke="#2a1a2a" stroke-width="0.6"/>
<path d="M384.0,249.9V309.5H670.6" fill="none" stroke="#6a6a6a" stroke-width="1.5"/>
<line x1="383.60" y1="249.90" x2="386.20" y2="249.90" stroke="#333333" stroke-width="1.1"/>
<text x="381.00" y="253.20" text-anchor="end" font-family="Liberation Sans, sans-serif" font-size="10" fill="#222">100</text>
<line x1="383.60" y1="279.70" x2="386.20" y2="279.70" stroke="#333333" stroke-width="1.1"/>
<text x="381.00" y="283.00" text-anchor="end" font-family="Liberation Sans, sans-serif" font-size="10" fill="#222">90</text>
<line x1="383.60" y1="309.50" x2="386.20" y2="309.50" stroke="#333333" stroke-width="1.1"/>
<text x="381.00" y="312.80" text-anchor="end" font-family="Liberation Sans, sans-serif" font-size="10" fill="#222">80</text>
<line x1="383.60" y1="309.50" x2="383.60" y2="306.90" stroke="#333333" stroke-width="1.1"/>
<text x="383.60" y="321.90" text-anchor="middle" font-family="Liberation Sans, sans-serif" font-size="10" fill="#222">0</text>
<line x1="441.00" y1="309.50" x2="441.00" y2="306.90" stroke="#333333" stroke-width="1.1"/>
<text x="441.00" y="321.90" text-anchor="middle" font-family="Liberation Sans, sans-serif" font-size="10" fill="#222">10</text>
<line x1="498.40" y1="309.50" x2="498.40" y2="306.90" stroke="#333333" stroke-width="1.1"/>
<text x="498.40" y="321.90" text-anchor="middle" font-family="Liberation Sans, sans-serif" font-size="10" fill="#222">20</text>
<line x1="555.80" y1="309.50" x2="555.80" y2="306.90" stroke="#333333" stroke-width="1.1"/>
<text x="555.80" y="321.90" text-anchor="middle" font-family="Liberation Sans, sans-serif" font-size="10" fill="#222">30</text>
<line x1="613.20" y1="309.50" x2="613.20" y2="306.90" stroke="#333333" stroke-width="1.1"/>
<text x="613.20" y="321.90" text-anchor="middle" font-family="Liberation Sans, sans-serif" font-size="10" fill="#222">40</text>
<line x1="670.60" y1="309.50" x2="670.60" y2="306.90" stroke="#333333" stroke-width="1.1"/>
<text x="670.60" y="321.90" text-anchor="middle" font-family="Liberation Sans, sans-serif" font-size="10" fill="#222">50</text>
<text x="527.10" y="241.7" text-anchor="middle" font-family="Liberation Sans, sans-serif" font-size="12" font-weight="bold" fill="#111">Properly Paired Reads</text>
<text x="341" y="242.0" font-family="Liberation Sans, sans-serif" font-size="20.8" fill="#111" style="stroke-width:0.6px">D</text>
<text transform="translate(351.3,279.70) rotate(-90)" text-anchor="middle" font-family="Liberation Sans, sans-serif" font-size="12.5" font-weight="bold" fill="#111">%</text>
<line x1="389.34" y1="262.71" x2="389.34" y2="309.50" stroke="#48457a" stroke-width="1.5"/>
<line x1="395.08" y1="262.71" x2="395.08" y2="309.50" stroke="#48457a" stroke-width="1.5"/>
<line x1="400.82" y1="299.07" x2="400.82" y2="309.50" stroke="#48457a" stroke-width="1.5"/>
<line x1="406.56" y1="299.07" x2="406.56" y2="309.50" stroke="#48457a" stroke-width="1.5"/>
<line x1="412.30" y1="299.07" x2="412.30" y2="309.50" stroke="#48457a" stroke-width="1.5"/>
<line x1="418.04" y1="264.80" x2="418.04" y2="309.50" stroke="#c4c4c4" stroke-width="1.3"/>
<line x1="423.78" y1="264.80" x2="423.78" y2="309.50" stroke="#c4c4c4" stroke-width="1.3"/>
<line x1="429.52" y1="293.71" x2="429.52" y2="309.50" stroke="#c4c4c4" stroke-width="1.3"/>
<line x1="435.26" y1="293.71" x2="435.26" y2="309.50" stroke="#c4c4c4" stroke-width="1.3"/>
<line x1="441.00" y1="293.71" x2="441.00" y2="309.50" stroke="#c4c4c4" stroke-width="1.3"/>
<line x1="446.74" y1="296.98" x2="446.74" y2="309.50" stroke="#48457a" stroke-width="1.5"/>
<line x1="452.48" y1="296.98" x2="452.48" y2="309.50" stroke="#48457a" stroke-width="1.5"/>
<line x1="458.22" y1="261.82" x2="458.22" y2="309.50" stroke="#48457a" stroke-width="1.5"/>
<line x1="463.96" y1="287.15" x2="463.96" y2="309.50" stroke="#c4c4c4" stroke-width="1.3"/>
<line x1="469.70" y1="287.15" x2="469.70" y2="309.50" stroke="#c4c4c4" stroke-width="1.3"/>
<line x1="475.44" y1="287.15" x2="475.44" y2="309.50" stroke="#c4c4c4" stroke-width="1.3"/>
<line x1="481.18" y1="263.61" x2="481.18" y2="309.50" stroke="#c4c4c4" stroke-width="1.3"/>
<line x1="486.92" y1="263.61" x2="486.92" y2="309.50" stroke="#c4c4c4" stroke-width="1.3"/>
<line x1="492.66" y1="263.61" x2="492.66" y2="309.50" stroke="#c4c4c4" stroke-width="1.3"/>
<line x1="498.40" y1="260.93" x2="498.40" y2="309.50" stroke="#7c7c7c" stroke-width="1.3"/>
<line x1="504.14" y1="260.93" x2="504.14" y2="309.50" stroke="#7c7c7c" stroke-width="1.3"/>
<line x1="509.88" y1="260.93" x2="509.88" y2="309.50" stroke="#7c7c7c" stroke-width="1.3"/>
<line x1="515.62" y1="274.34" x2="515.62" y2="309.50" stroke="#7c7c7c" stroke-width="1.3"/>
<line x1="521.36" y1="274.34" x2="521.36" y2="309.50" stroke="#7c7c7c" stroke-width="1.3"/>
<line x1="527.10" y1="274.34" x2="527.10" y2="309.50" stroke="#7c7c7c" stroke-width="1.3"/>
<line x1="532.84" y1="263.91" x2="532.84" y2="309.50" stroke="#c4c4c4" stroke-width="1.3"/>
<line x1="538.58" y1="263.91" x2="538.58" y2="309.50" stroke="#c4c4c4" stroke-width="1.3"/>
<line x1="544.32" y1="263.91" x2="544.32" y2="309.50" stroke="#c4c4c4" stroke-width="1.3"/>
<line x1="550.06" y1="287.15" x2="550.06" y2="309.50" stroke="#c4c4c4" stroke-width="1.3"/>
<line x1="555.80" y1="287.15" x2="555.80" y2="309.50" stroke="#c4c4c4" stroke-width="1.3"/>
<line x1="561.54" y1="285.96" x2="561.54" y2="309.50" stroke="#c4c4c4" stroke-width="1.3"/>
<line x1="567.28" y1="261.82" x2="567.28" y2="309.50" stroke="#48457a" stroke-width="1.5"/>
<line x1="573.02" y1="261.82" x2="573.02" y2="309.50" stroke="#48457a" stroke-width="1.5"/>
<line x1="578.76" y1="261.82" x2="578.76" y2="309.50" stroke="#48457a" stroke-width="1.5"/>
<line x1="584.50" y1="303.84" x2="584.50" y2="309.50" stroke="#48457a" stroke-width="1.5"/>
<line x1="590.24" y1="303.84" x2="590.24" y2="309.50" stroke="#48457a" stroke-width="1.5"/>
<line x1="595.98" y1="303.84" x2="595.98" y2="309.50" stroke="#48457a" stroke-width="1.5"/>
<line x1="601.72" y1="262.42" x2="601.72" y2="309.50" stroke="#c4c4c4" stroke-width="1.3"/>
<line x1="607.46" y1="262.42" x2="607.46" y2="309.50" stroke="#c4c4c4" stroke-width="1.3"/>
<line x1="613.20" y1="262.42" x2="613.20" y2="309.50" stroke="#c4c4c4" stroke-width="1.3"/>
<line x1="618.94" y1="287.45" x2="618.94" y2="309.50" stroke="#c4c4c4" stroke-width="1.3"/>
<line x1="624.68" y1="287.45" x2="624.68" y2="309.50" stroke="#c4c4c4" stroke-width="1.3"/>
<line x1="630.42" y1="287.45" x2="630.42" y2="309.50" stroke="#c4c4c4" stroke-width="1.3"/>
<line x1="636.16" y1="262.42" x2="636.16" y2="309.50" stroke="#48457a" stroke-width="1.5"/>
<line x1="641.90" y1="262.42" x2="641.90" y2="309.50" stroke="#48457a" stroke-width="1.5"/>
<line x1="647.64" y1="262.42" x2="647.64" y2="309.50" stroke="#48457a" stroke-width="1.5"/>
<line x1="653.38" y1="277.91" x2="653.38" y2="309.50" stroke="#48457a" stroke-width="1.5"/>
<line x1="659.12" y1="277.91" x2="659.12" y2="309.50" stroke="#48457a" stroke-width="1.5"/>
<line x1="664.86" y1="277.91" x2="664.86" y2="309.50" stroke="#48457a" stroke-width="1.5"/>
<circle cx="389.34" cy="262.71" r="2.75" fill="#2e3591" stroke="#2a1a2a" stroke-width="0.6"/>
<circle cx="395.08" cy="262.71" r="2.75" fill="#2e3591" stroke="#2a1a2a" stroke-width="0.6"/>
<circle cx="400.82" cy="299.07" r="2.75" fill="#e0303a" stroke="#2a1a2a" stroke-width="0.6"/>
<circle cx="406.56" cy="299.07" r="2.75" fill="#e0303a" stroke="#2a1a2a" stroke-width="0.6"/>
<circle cx="412.30" cy="299.07" r="2.75" fill="#e0303a" stroke="#2a1a2a" stroke-width="0.6"/>
<circle cx="418.04" cy="264.80" r="2.75" fill="#2e3591" stroke="#2a1a2a" stroke-width="0.6"/>
<circle cx="423.78" cy="264.80" r="2.75" fill="#2e3591" stroke="#2a1a2a" stroke-width="0.6"/>
<circle cx="429.52" cy="293.71" r="2.75" fill="#e0303a" stroke="#2a1a2a" stroke-width="0.6"/>
<circle cx="435.26" cy="293.71" r="2.75" fill="#e0303a" stroke="#2a1a2a" stroke-width="0.6"/>
<circle cx="441.00" cy="293.71" r="2.75" fill="#e0303a" stroke="#2a1a2a" stroke-width="0.6"/>
<circle cx="446.74" cy="296.98" r="2.75" fill="#e0303a" stroke="#2a1a2a" stroke-width="0.6"/>
<circle cx="452.48" cy="296.98" r="2.75" fill="#e0303a" stroke="#2a1a2a" stroke-width="0.6"/>
<circle cx="458.22" cy="261.82" r="2.75" fill="#2e3591" stroke="#2a1a2a" stroke-width="0.6"/>
<circle cx="463.96" cy="287.15" r="2.75" fill="#e0303a" stroke="#2a1a2a" stroke-width="0.6"/>
<circle cx="469.70" cy="287.15" r="2.75" fill="#e0303a" stroke="#2a1a2a" stroke-width="0.6"/>
<circle cx="475.44" cy="287.15" r="2.75" fill="#e0303a" stroke="#2a1a2a" stroke-width="0.6"/>
<circle cx="481.18" cy="263.61" r="2.75" fill="#2e3591" stroke="#2a1a2a" stroke-width="0.6"/>
<circle cx="486.92" cy="263.61" r="2.75" fill="#2e3591" stroke="#2a1a2a" stroke-width="0.6"/>
<circle cx="492.66" cy="263.61" r="2.75" fill="#2e3591" stroke="#2a1a2a" stroke-width="0.6"/>
<circle cx="498.40" cy="260.93" r="2.75" fill="#2e3591" stroke="#2a1a2a" stroke-width="0.6"/>
<circle cx="504.14" cy="260.93" r="2.75" fill="#2e3591" stroke="#2a1a2a" stroke-width="0.6"/>
<circle cx="509.88" cy="260.93" r="2.75" fill="#2e3591" stroke="#2a1a2a" stroke-width="0.6"/>
<circle cx="515.62" cy="274.34" r="2.75" fill="#e0303a" stroke="#2a1a2a" stroke-width="0.6"/>
<circle cx="521.36" cy="274.34" r="2.75" fill="#e0303a" stroke="#2a1a2a" stroke-width="0.6"/>
<circle cx="527.10" cy="274.34" r="2.75" fill="#e0303a" stroke="#2a1a2a" stroke-width="0.6"/>
<circle cx="532.84" cy="263.91" r="2.75" fill="#2e3591" stroke="#2a1a2a" stroke-width="0.6"/>
<circle cx="538.58" cy="263.91" r="2.75" fill="#2e3591" stroke="#2a1a2a" stroke-width="0.6"/>
<circle cx="544.32" cy="263.91" r="2.75" fill="#2e3591" stroke="#2a1a2a" stroke-width="0.6"/>
<circle cx="550.06" cy="287.15" r="2.75" fill="#e0303a" stroke="#2a1a2a" stroke-width="0.6"/>
<circle cx="555.80" cy="287.15" r="2.75" fill="#e0303a" stroke="#2a1a2a" stroke-width="0.6"/>
<circle cx="561.54" cy="285.96" r="2.75" fill="#e0303a" stroke="#2a1a2a" stroke-width="0.6"/>
<circle cx="567.28" cy="261.82" r="2.75" fill="#2e3591" stroke="#2a1a2a" stroke-width="0.6"/>
<circle cx="573.02" cy="261.82" r="2.75" fill="#2e3591" stroke="#2a1a2a" stroke-width="0.6"/>
<circle cx="578.76" cy="261.82" r="2.75" fill="#2e3591" stroke="#2a1a2a" stroke-width="0.6"/>
<circle cx="584.50" cy="303.84" r="2.75" fill="#e0303a" stroke="#2a1a2a" stroke-width="0.6"/>
<circle cx="590.24" cy="303.84" r="2.75" fill="#e0303a" stroke="#2a1a2a" stroke-width="0.6"/>
<circle cx="595.98" cy="303.84" r="2.75" fill="#e0303a" stroke="#2a1a2a" stroke-width="0.6"/>
<circle cx="601.72" cy="262.42" r="2.75" fill="#2e3591" stroke="#2a1a2a" stroke-width="0.6"/>
<circle cx="607.46" cy="262.42" r="2.75" fill="#2e3591" stroke="#2a1a2a" stroke-width="0.6"/>
<circle cx="613.20" cy="262.42" r="2.75" fill="#2e3591" stroke="#2a1a2a" stroke-width="0.6"/>
<circle cx="618.94" cy="287.45" r="2.75" fill="#e0303a" stroke="#2a1a2a" stroke-width="0.6"/>
<circle cx="624.68" cy="287.45" r="2.75" fill="#e0303a" stroke="#2a1a2a" stroke-width="0.6"/>
<circle cx="630.42" cy="287.45" r="2.75" fill="#e0303a" stroke="#2a1a2a" stroke-width="0.6"/>
<circle cx="636.16" cy="262.42" r="2.75" fill="#2e3591" stroke="#2a1a2a" stroke-width="0.6"/>
<circle cx="641.90" cy="262.42" r="2.75" fill="#2e3591" stroke="#2a1a2a" stroke-width="0.6"/>
<circle cx="647.64" cy="262.42" r="2.75" fill="#2e3591" stroke="#2a1a2a" stroke-width="0.6"/>
<circle cx="653.38" cy="277.91" r="2.75" fill="#e0303a" stroke="#2a1a2a" stroke-width="0.6"/>
<circle cx="659.12" cy="277.91" r="2.75" fill="#e0303a" stroke="#2a1a2a" stroke-width="0.6"/>
<circle cx="664.86" cy="277.91" r="2.75" fill="#e0303a" stroke="#2a1a2a" stroke-width="0.6"/>
<path d="M384.0,353.7V411.8H670.6" fill="none" stroke="#6a6a6a" stroke-width="1.5"/>
<line x1="383.60" y1="353.70" x2="386.20" y2="353.70" stroke="#333333" stroke-width="1.1"/>
<text x="381.00" y="357.00" text-anchor="end" font-family="Liberation Sans, sans-serif" font-size="10" fill="#222">20</text>
<line x1="383.60" y1="382.75" x2="386.20" y2="382.75" stroke="#333333" stroke-width="1.1"/>
<text x="381.00" y="386.05" text-anchor="end" font-family="Liberation Sans, sans-serif" font-size="10" fill="#222">10</text>
<line x1="383.60" y1="411.80" x2="386.20" y2="411.80" stroke="#333333" stroke-width="1.1"/>
<text x="381.00" y="415.10" text-anchor="end" font-family="Liberation Sans, sans-serif" font-size="10" fill="#222">0</text>
<line x1="383.60" y1="411.80" x2="383.60" y2="409.20" stroke="#333333" stroke-width="1.1"/>
<text x="383.60" y="424.20" text-anchor="middle" font-family="Liberation Sans, sans-serif" font-size="10" fill="#222">0</text>
<line x1="441.00" y1="411.80" x2="441.00" y2="409.20" stroke="#333333" stroke-width="1.1"/>
<text x="441.00" y="424.20" text-anchor="middle" font-family="Liberation Sans, sans-serif" font-size="10" fill="#222">10</text>
<line x1="498.40" y1="411.80" x2="498.40" y2="409.20" stroke="#333333" stroke-width="1.1"/>
<text x="498.40" y="424.20" text-anchor="middle" font-family="Liberation Sans, sans-serif" font-size="10" fill="#222">20</text>
<line x1="555.80" y1="411.80" x2="555.80" y2="409.20" stroke="#333333" stroke-width="1.1"/>
<text x="555.80" y="424.20" text-anchor="middle" font-family="Liberation Sans, sans-serif" font-size="10" fill="#222">30</text>
<line x1="613.20" y1="411.80" x2="613.20" y2="409.20" stroke="#333333" stroke-width="1.1"/>
<text x="613.20" y="424.20" text-anchor="middle" font-family="Liberation Sans, sans-serif" font-size="10" fill="#222">40</text>
<line x1="670.60" y1="411.80" x2="670.60" y2="409.20" stroke="#333333" stroke-width="1.1"/>
<text x="670.60" y="424.20" text-anchor="middle" font-family="Liberation Sans, sans-serif" font-size="10" fill="#222">50</text>
<text x="527.10" y="344" text-anchor="middle" font-family="Liberation Sans, sans-serif" font-size="12" font-weight="bold" fill="#111">Pairs Mapped to Diff Chromosoms</text>
<text x="341" y="344.4" font-family="Liberation Sans, sans-serif" font-size="20.8" fill="#111" style="stroke-width:0.6px">E</text>
<text transform="translate(351.3,382.75) rotate(-90)" text-anchor="middle" font-family="Liberation Sans, sans-serif" font-size="12.5" font-weight="bold" fill="#111">%</text>
<line x1="389.34" y1="405.99" x2="389.34" y2="411.80" stroke="#48457a" stroke-width="1.5"/>
<line x1="395.08" y1="405.99" x2="395.08" y2="411.80" stroke="#48457a" stroke-width="1.5"/>
<line x1="400.82" y1="372.00" x2="400.82" y2="411.80" stroke="#48457a" stroke-width="1.5"/>
<line x1="406.56" y1="372.00" x2="406.56" y2="411.80" stroke="#48457a" stroke-width="1.5"/>
<line x1="412.30" y1="372.00" x2="412.30" y2="411.80" stroke="#48457a" stroke-width="1.5"/>
<line x1="418.04" y1="403.96" x2="418.04" y2="411.80" stroke="#c4c4c4" stroke-width="1.3"/>
<line x1="423.78" y1="403.96" x2="423.78" y2="411.80" stroke="#c4c4c4" stroke-width="1.3"/>
<line x1="429.52" y1="376.94" x2="429.52" y2="411.80" stroke="#c4c4c4" stroke-width="1.3"/>
<line x1="435.26" y1="376.94" x2="435.26" y2="411.80" stroke="#c4c4c4" stroke-width="1.3"/>
<line x1="441.00" y1="376.94" x2="441.00" y2="411.80" stroke="#c4c4c4" stroke-width="1.3"/>
<line x1="446.74" y1="374.03" x2="446.74" y2="411.80" stroke="#48457a" stroke-width="1.5"/>
<line x1="452.48" y1="374.03" x2="452.48" y2="411.80" stroke="#48457a" stroke-width="1.5"/>
<line x1="458.22" y1="407.01" x2="458.22" y2="411.80" stroke="#48457a" stroke-width="1.5"/>
<line x1="463.96" y1="382.75" x2="463.96" y2="411.80" stroke="#c4c4c4" stroke-width="1.3"/>
<line x1="469.70" y1="382.75" x2="469.70" y2="411.80" stroke="#c4c4c4" stroke-width="1.3"/>
<line x1="475.44" y1="382.75" x2="475.44" y2="411.80" stroke="#c4c4c4" stroke-width="1.3"/>
<line x1="481.18" y1="405.99" x2="481.18" y2="411.80" stroke="#c4c4c4" stroke-width="1.3"/>
<line x1="486.92" y1="405.99" x2="486.92" y2="411.80" stroke="#c4c4c4" stroke-width="1.3"/>
<line x1="492.66" y1="405.99" x2="492.66" y2="411.80" stroke="#c4c4c4" stroke-width="1.3"/>
<line x1="498.40" y1="407.30" x2="498.40" y2="411.80" stroke="#7c7c7c" stroke-width="1.3"/>
<line x1="504.14" y1="407.30" x2="504.14" y2="411.80" stroke="#7c7c7c" stroke-width="1.3"/>
<line x1="509.88" y1="407.30" x2="509.88" y2="411.80" stroke="#7c7c7c" stroke-width="1.3"/>
<line x1="515.62" y1="394.37" x2="515.62" y2="411.80" stroke="#7c7c7c" stroke-width="1.3"/>
<line x1="521.36" y1="394.37" x2="521.36" y2="411.80" stroke="#7c7c7c" stroke-width="1.3"/>
<line x1="527.10" y1="394.37" x2="527.10" y2="411.80" stroke="#7c7c7c" stroke-width="1.3"/>
<line x1="532.84" y1="403.96" x2="532.84" y2="411.80" stroke="#c4c4c4" stroke-width="1.3"/>
<line x1="538.58" y1="403.96" x2="538.58" y2="411.80" stroke="#c4c4c4" stroke-width="1.3"/>
<line x1="544.32" y1="403.96" x2="544.32" y2="411.80" stroke="#c4c4c4" stroke-width="1.3"/>
<line x1="550.06" y1="383.62" x2="550.06" y2="411.80" stroke="#c4c4c4" stroke-width="1.3"/>
<line x1="555.80" y1="383.62" x2="555.80" y2="411.80" stroke="#c4c4c4" stroke-width="1.3"/>
<line x1="561.54" y1="383.62" x2="561.54" y2="411.80" stroke="#c4c4c4" stroke-width="1.3"/>
<line x1="567.28" y1="406.86" x2="567.28" y2="411.80" stroke="#48457a" stroke-width="1.5"/>
<line x1="573.02" y1="406.86" x2="573.02" y2="411.80" stroke="#48457a" stroke-width="1.5"/>
<line x1="578.76" y1="406.86" x2="578.76" y2="411.80" stroke="#48457a" stroke-width="1.5"/>
<line x1="584.50" y1="366.48" x2="584.50" y2="411.80" stroke="#48457a" stroke-width="1.5"/>
<line x1="590.24" y1="366.48" x2="590.24" y2="411.80" stroke="#48457a" stroke-width="1.5"/>
<line x1="595.98" y1="366.48" x2="595.98" y2="411.80" stroke="#48457a" stroke-width="1.5"/>
<line x1="601.72" y1="405.41" x2="601.72" y2="411.80" stroke="#c4c4c4" stroke-width="1.3"/>
<line x1="607.46" y1="405.41" x2="607.46" y2="411.80" stroke="#c4c4c4" stroke-width="1.3"/>
<line x1="613.20" y1="405.41" x2="613.20" y2="411.80" stroke="#c4c4c4" stroke-width="1.3"/>
<line x1="618.94" y1="382.17" x2="618.94" y2="411.80" stroke="#c4c4c4" stroke-width="1.3"/>
<line x1="624.68" y1="382.17" x2="624.68" y2="411.80" stroke="#c4c4c4" stroke-width="1.3"/>
<line x1="630.42" y1="382.17" x2="630.42" y2="411.80" stroke="#c4c4c4" stroke-width="1.3"/>
<line x1="636.16" y1="406.57" x2="636.16" y2="411.80" stroke="#48457a" stroke-width="1.5"/>
<line x1="641.90" y1="406.57" x2="641.90" y2="411.80" stroke="#48457a" stroke-width="1.5"/>
<line x1="647.64" y1="406.57" x2="647.64" y2="411.80" stroke="#48457a" stroke-width="1.5"/>
<line x1="653.38" y1="391.47" x2="653.38" y2="411.80" stroke="#48457a" stroke-width="1.5"/>
<line x1="659.12" y1="391.47" x2="659.12" y2="411.80" stroke="#48457a" stroke-width="1.5"/>
<line x1="664.86" y1="391.47" x2="664.86" y2="411.80" stroke="#48457a" stroke-width="1.5"/>
<circle cx="389.34" cy="405.99" r="2.75" fill="#2e3591" stroke="#2a1a2a" stroke-width="0.6"/>
<circle cx="395.08" cy="405.99" r="2.75" fill="#2e3591" stroke="#2a1a2a" stroke-width="0.6"/>
<circle cx="400.82" cy="372.00" r="2.75" fill="#e0303a" stroke="#2a1a2a" stroke-width="0.6"/>
<circle cx="406.56" cy="372.00" r="2.75" fill="#e0303a" stroke="#2a1a2a" stroke-width="0.6"/>
<circle cx="412.30" cy="372.00" r="2.75" fill="#e0303a" stroke="#2a1a2a" stroke-width="0.6"/>
<circle cx="418.04" cy="403.96" r="2.75" fill="#2e3591" stroke="#2a1a2a" stroke-width="0.6"/>
<circle cx="423.78" cy="403.96" r="2.75" fill="#2e3591" stroke="#2a1a2a" stroke-width="0.6"/>
<circle cx="429.52" cy="376.94" r="2.75" fill="#e0303a" stroke="#2a1a2a" stroke-width="0.6"/>
<circle cx="435.26" cy="376.94" r="2.75" fill="#e0303a" stroke="#2a1a2a" stroke-width="0.6"/>
<circle cx="441.00" cy="376.94" r="2.75" fill="#e0303a" stroke="#2a1a2a" stroke-width="0.6"/>
<circle cx="446.74" cy="374.03" r="2.75" fill="#e0303a" stroke="#2a1a2a" stroke-width="0.6"/>
<circle cx="452.48" cy="374.03" r="2.75" fill="#e0303a" stroke="#2a1a2a" stroke-width="0.6"/>
<circle cx="458.22" cy="407.01" r="2.75" fill="#2e3591" stroke="#2a1a2a" stroke-width="0.6"/>
<circle cx="463.96" cy="382.75" r="2.75" fill="#e0303a" stroke="#2a1a2a" stroke-width="0.6"/>
<circle cx="469.70" cy="382.75" r="2.75" fill="#e0303a" stroke="#2a1a2a" stroke-width="0.6"/>
<circle cx="475.44" cy="382.75" r="2.75" fill="#e0303a" stroke="#2a1a2a" stroke-width="0.6"/>
<circle cx="481.18" cy="405.99" r="2.75" fill="#2e3591" stroke="#2a1a2a" stroke-width="0.6"/>
<circle cx="486.92" cy="405.99" r="2.75" fill="#2e3591" stroke="#2a1a2a" stroke-width="0.6"/>
<circle cx="492.66" cy="405.99" r="2.75" fill="#2e3591" stroke="#2a1a2a" stroke-width="0.6"/>
<circle cx="498.40" cy="407.30" r="2.75" fill="#2e3591" stroke="#2a1a2a" stroke-width="0.6"/>
<circle cx="504.14" cy="407.30" r="2.75" fill="#2e3591" stroke="#2a1a2a" stroke-width="0.6"/>
<circle cx="509.88" cy="407.30" r="2.75" fill="#2e3591" stroke="#2a1a2a" stroke-width="0.6"/>
<circle cx="515.62" cy="394.37" r="2.75" fill="#e0303a" stroke="#2a1a2a" stroke-width="0.6"/>
<circle cx="521.36" cy="394.37" r="2.75" fill="#e0303a" stroke="#2a1a2a" stroke-width="0.6"/>
<circle cx="527.10" cy="394.37" r="2.75" fill="#e0303a" stroke="#2a1a2a" stroke-width="0.6"/>
<circle cx="532.84" cy="403.96" r="2.75" fill="#2e3591" stroke="#2a1a2a" stroke-width="0.6"/>
<circle cx="538.58" cy="403.96" r="2.75" fill="#2e3591" stroke="#2a1a2a" stroke-width="0.6"/>
<circle cx="544.32" cy="403.96" r="2.75" fill="#2e3591" stroke="#2a1a2a" stroke-width="0.6"/>
<circle cx="550.06" cy="383.62" r="2.75" fill="#e0303a" stroke="#2a1a2a" stroke-width="0.6"/>
<circle cx="555.80" cy="383.62" r="2.75" fill="#e0303a" stroke="#2a1a2a" stroke-width="0.6"/>
<circle cx="561.54" cy="383.62" r="2.75" fill="#e0303a" stroke="#2a1a2a" stroke-width="0.6"/>
<circle cx="567.28" cy="406.86" r="2.75" fill="#2e3591" stroke="#2a1a2a" stroke-width="0.6"/>
<circle cx="573.02" cy="406.86" r="2.75" fill="#2e3591" stroke="#2a1a2a" stroke-width="0.6"/>
<circle cx="578.76" cy="406.86" r="2.75" fill="#2e3591" stroke="#2a1a2a" stroke-width="0.6"/>
<circle cx="584.50" cy="366.48" r="2.75" fill="#e0303a" stroke="#2a1a2a" stroke-width="0.6"/>
<circle cx="590.24" cy="366.48" r="2.75" fill="#e0303a" stroke="#2a1a2a" stroke-width="0.6"/>
<circle cx="595.98" cy="366.48" r="2.75" fill="#e0303a" stroke="#2a1a2a" stroke-width="0.6"/>
<circle cx="601.72" cy="405.41" r="2.75" fill="#2e3591" stroke="#2a1a2a" stroke-width="0.6"/>
<circle cx="607.46" cy="405.41" r="2.75" fill="#2e3591" stroke="#2a1a2a" stroke-width="0.6"/>
<circle cx="613.20" cy="405.41" r="2.75" fill="#2e3591" stroke="#2a1a2a" stroke-width="0.6"/>
<circle cx="618.94" cy="382.17" r="2.75" fill="#e0303a" stroke="#2a1a2a" stroke-width="0.6"/>
<circle cx="624.68" cy="382.17" r="2.75" fill="#e0303a" stroke="#2a1a2a" stroke-width="0.6"/>
<circle cx="630.42" cy="382.17" r="2.75" fill="#e0303a" stroke="#2a1a2a" stroke-width="0.6"/>
<circle cx="636.16" cy="406.57" r="2.75" fill="#2e3591" stroke="#2a1a2a" stroke-width="0.6"/>
<circle cx="641.90" cy="406.57" r="2.75" fill="#2e3591" stroke="#2a1a2a" stroke-width="0.6"/>
<circle cx="647.64" cy="406.57" r="2.75" fill="#2e3591" stroke="#2a1a2a" stroke-width="0.6"/>
<circle cx="653.38" cy="391.47" r="2.75" fill="#e0303a" stroke="#2a1a2a" stroke-width="0.6"/>
<circle cx="659.12" cy="391.47" r="2.75" fill="#e0303a" stroke="#2a1a2a" stroke-width="0.6"/>
<circle cx="664.86" cy="391.47" r="2.75" fill="#e0303a" stroke="#2a1a2a" stroke-width="0.6"/>
<path d="M384.0,456.5V521.8H670.6" fill="none" stroke="#6a6a6a" stroke-width="1.5"/>
<line x1="383.60" y1="456.50" x2="386.20" y2="456.50" stroke="#333333" stroke-width="1.1"/>
<text x="381.00" y="459.80" text-anchor="end" font-family="Liberation Sans, sans-serif" font-size="10" fill="#222">0.06</text>
<line x1="383.60" y1="478.27" x2="386.20" y2="478.27" stroke="#333333" stroke-width="1.1"/>
<text x="381.00" y="481.57" text-anchor="end" font-family="Liberation Sans, sans-serif" font-size="10" fill="#222">0.04</text>
<line x1="383.60" y1="500.03" x2="386.20" y2="500.03" stroke="#333333" stroke-width="1.1"/>
<text x="381.00" y="503.33" text-anchor="end" font-family="Liberation Sans, sans-serif" font-size="10" fill="#222">0.02</text>
<line x1="383.60" y1="521.80" x2="386.20" y2="521.80" stroke="#333333" stroke-width="1.1"/>
<text x="381.00" y="525.10" text-anchor="end" font-family="Liberation Sans, sans-serif" font-size="10" fill="#222">0</text>
<line x1="383.60" y1="521.80" x2="383.60" y2="519.20" stroke="#333333" stroke-width="1.1"/>
<text x="383.60" y="534.20" text-anchor="middle" font-family="Liberation Sans, sans-serif" font-size="10" fill="#222">0</text>
<line x1="441.00" y1="521.80" x2="441.00" y2="519.20" stroke="#333333" stroke-width="1.1"/>
<text x="441.00" y="534.20" text-anchor="middle" font-family="Liberation Sans, sans-serif" font-size="10" fill="#222">20</text>
<line x1="498.40" y1="521.80" x2="498.40" y2="519.20" stroke="#333333" stroke-width="1.1"/>
<text x="498.40" y="534.20" text-anchor="middle" font-family="Liberation Sans, sans-serif" font-size="10" fill="#222">40</text>
<line x1="555.80" y1="521.80" x2="555.80" y2="519.20" stroke="#333333" stroke-width="1.1"/>
<text x="555.80" y="534.20" text-anchor="middle" font-family="Liberation Sans, sans-serif" font-size="10" fill="#222">60</text>
<line x1="613.20" y1="521.80" x2="613.20" y2="519.20" stroke="#333333" stroke-width="1.1"/>
<text x="613.20" y="534.20" text-anchor="middle" font-family="Liberation Sans, sans-serif" font-size="10" fill="#222">80</text>
<line x1="670.60" y1="521.80" x2="670.60" y2="519.20" stroke="#333333" stroke-width="1.1"/>
<text x="670.60" y="534.20" text-anchor="middle" font-family="Liberation Sans, sans-serif" font-size="10" fill="#222">100</text>
<text x="527.10" y="446.6" text-anchor="middle" font-family="Liberation Sans, sans-serif" font-size="12" font-weight="bold" fill="#111">GC Content</text>
<text x="341" y="447.2" font-family="Liberation Sans, sans-serif" font-size="20.8" fill="#111" style="stroke-width:0.6px">F</text>
<text transform="translate(350.2,489.15) rotate(-90)" text-anchor="middle" font-family="Liberation Sans, sans-serif" font-size="10" font-weight="bold" fill="#111">Density</text>
<path d="M383.6,521.8 418.0,521.8 423.8,521.6 428.1,521.2 433.8,520.2 438.1,519.2 441.0,518.2 443.9,516.4 449.6,511.4 458.2,502.4 471.1,488.3 475.4,484.0 479.7,480.0 482.6,477.9 485.5,476.1 488.4,475.0 489.8,474.7 491.2,474.6 495.5,475.6 499.8,477.6 504.1,480.1 507.0,482.1 515.6,488.8 518.5,490.8 522.8,493.6 534.3,500.3 545.8,508.4 552.9,512.9 555.8,514.5 560.1,516.4 567.3,518.7 573.0,519.9 578.8,520.7 584.5,521.3 591.7,521.7 601.7,521.8 670.6,521.8" fill="none" stroke="#e0303a" stroke-width="0.9" stroke-linejoin="round"/>
<path d="M383.6,521.8 418.0,521.8 423.8,521.6 429.5,520.9 433.8,520.2 438.1,519.1 441.0,518.0 443.9,516.1 449.6,511.0 458.2,501.9 471.1,487.6 475.4,483.2 479.7,479.2 482.6,477.1 485.5,475.3 488.4,474.3 489.8,473.9 491.2,473.9 495.5,475.1 499.8,477.1 504.1,479.6 518.5,490.5 522.8,493.3 532.8,499.2 547.2,509.3 552.9,512.9 555.8,514.5 560.1,516.4 567.3,518.7 573.0,519.9 578.8,520.7 584.5,521.3 591.7,521.7 601.7,521.8 670.6,521.8" fill="none" stroke="#e0303a" stroke-width="0.9" stroke-linejoin="round"/>
<path d="M383.6,521.8 418.0,521.8 423.8,521.6 428.1,521.2 433.8,520.3 438.1,519.2 441.0,518.2 443.9,516.4 449.6,511.4 458.2,502.5 471.1,488.3 475.4,484.0 479.7,480.0 482.6,477.8 485.5,476.0 488.4,474.9 489.8,474.6 491.2,474.5 494.1,475.1 497.0,476.1 501.3,478.3 504.1,480.0 507.0,482.0 515.6,488.7 518.5,490.7 522.8,493.5 534.3,500.2 547.2,509.3 552.9,512.9 555.8,514.4 560.1,516.3 567.3,518.7 573.0,519.9 578.8,520.7 584.5,521.3 591.7,521.6 601.7,521.8 670.6,521.8" fill="none" stroke="#e0303a" stroke-width="0.9" stroke-linejoin="round"/>
<path d="M383.6,521.8 418.0,521.8 423.8,521.6 429.5,521.0 433.8,520.2 438.1,519.2 441.0,518.2 443.9,516.4 449.6,511.3 458.2,502.5 471.1,488.5 475.4,484.2 479.7,480.3 482.6,478.2 485.5,476.4 488.4,475.4 489.8,475.0 491.2,475.0 495.5,476.1 499.8,478.1 504.1,480.5 518.5,491.2 522.8,493.9 532.8,499.6 547.2,509.5 552.9,513.0 555.8,514.6 560.1,516.4 567.3,518.8 573.0,519.9 578.8,520.8 584.5,521.3 591.7,521.7 601.7,521.8 670.6,521.8" fill="none" stroke="#e0303a" stroke-width="0.9" stroke-linejoin="round"/>
<path d="M383.6,521.8 419.5,521.8 423.8,521.6 428.1,521.2 433.8,520.3 438.1,519.3 441.0,518.4 443.9,516.8 449.6,511.8 458.2,502.9 471.1,488.7 475.4,484.3 479.7,480.2 482.6,478.0 485.5,476.1 488.4,474.9 491.2,474.3 492.7,474.5 495.5,475.2 498.4,476.4 502.7,478.7 507.0,481.5 515.6,488.2 519.9,491.3 524.2,494.0 534.3,499.8 545.8,507.9 551.5,511.7 555.8,514.1 558.7,515.5 563.0,517.2 567.3,518.6 571.6,519.5 578.8,520.7 584.5,521.2 593.1,521.7 670.6,521.8" fill="none" stroke="#e0303a" stroke-width="0.9" stroke-linejoin="round"/>
<path d="M383.6,521.8 418.0,521.8 423.8,521.6 429.5,520.9 433.8,520.1 438.1,519.0 441.0,517.9 443.9,516.0 449.6,510.9 458.2,502.0 469.7,489.5 478.3,481.2 481.2,479.0 484.1,477.1 486.9,475.8 489.8,475.1 491.2,475.2 494.1,475.9 497.0,477.0 501.3,479.2 505.6,481.9 514.2,488.5 518.5,491.6 522.8,494.3 532.8,500.0 544.3,507.9 550.1,511.6 554.4,514.1 557.2,515.5 561.5,517.2 565.8,518.5 570.2,519.5 577.3,520.6 583.1,521.2 591.7,521.7 670.6,521.8" fill="none" stroke="#e0303a" stroke-width="0.9" stroke-linejoin="round"/>
<path d="M383.6,521.8 419.5,521.8 423.8,521.6 428.1,521.3 433.8,520.4 438.1,519.4 441.0,518.4 443.9,516.9 449.6,512.0 458.2,503.3 471.1,489.3 479.7,481.0 482.6,478.8 485.5,476.9 488.4,475.7 491.2,475.1 492.7,475.2 495.5,476.0 498.4,477.2 502.7,479.4 507.0,482.1 515.6,488.8 519.9,491.8 524.2,494.4 534.3,500.2 545.8,508.1 551.5,511.8 555.8,514.3 558.7,515.6 563.0,517.3 567.3,518.6 571.6,519.5 578.8,520.7 584.5,521.2 593.1,521.7 670.6,521.8" fill="none" stroke="#e0303a" stroke-width="0.9" stroke-linejoin="round"/>
<path d="M383.6,521.8 416.6,521.8 422.3,521.6 426.7,521.2 432.4,520.3 436.7,519.2 439.6,518.2 442.4,516.5 448.2,511.5 456.8,502.6 469.7,488.3 474.0,483.9 478.3,479.9 481.2,477.7 484.1,475.9 486.9,474.7 488.4,474.4 489.8,474.2 492.7,474.8 495.5,475.8 499.8,477.9 502.7,479.6 505.6,481.6 514.2,488.4 518.5,491.4 532.8,500.0 545.8,509.1 551.5,512.7 554.4,514.3 558.7,516.2 565.8,518.6 571.6,519.8 577.3,520.7 583.1,521.2 590.2,521.6 600.3,521.8 670.6,521.8" fill="none" stroke="#e0303a" stroke-width="0.9" stroke-linejoin="round"/>
<path d="M383.6,521.8 419.5,521.8 425.2,521.6 431.0,520.9 435.3,520.1 439.6,519.0 442.4,517.9 445.3,515.9 451.0,510.7 459.7,501.6 471.1,488.7 475.4,484.3 479.7,480.1 482.6,477.8 485.5,475.9 488.4,474.5 491.2,473.8 492.7,473.9 494.1,474.2 497.0,475.1 502.7,478.0 507.0,480.7 515.6,487.6 519.9,490.7 524.2,493.5 534.3,499.3 545.8,507.5 551.5,511.3 555.8,513.9 558.7,515.3 563.0,517.0 567.3,518.4 571.6,519.4 578.8,520.6 584.5,521.2 593.1,521.7 670.6,521.8" fill="none" stroke="#e0303a" stroke-width="0.9" stroke-linejoin="round"/>
<path d="M383.6,521.8 418.0,521.8 423.8,521.6 428.1,521.2 433.8,520.3 438.1,519.2 441.0,518.2 443.9,516.5 449.6,511.4 458.2,502.5 471.1,488.2 475.4,483.9 479.7,479.9 482.6,477.7 485.5,475.9 488.4,474.8 489.8,474.4 491.2,474.3 494.1,474.9 497.0,475.9 501.3,478.1 504.1,479.7 507.0,481.7 515.6,488.5 518.5,490.6 522.8,493.4 534.3,500.1 547.2,509.2 552.9,512.8 555.8,514.4 560.1,516.3 567.3,518.7 573.0,519.8 578.8,520.7 584.5,521.3 591.7,521.6 601.7,521.8 670.6,521.8" fill="none" stroke="#e0303a" stroke-width="0.9" stroke-linejoin="round"/>
<path d="M383.6,521.8 416.6,521.8 422.3,521.6 428.1,520.9 432.4,520.1 436.7,519.0 439.6,517.9 442.4,516.0 448.2,510.8 456.8,501.8 468.3,488.9 472.6,484.5 476.9,480.4 479.7,478.0 482.6,476.1 485.5,474.7 488.4,474.0 489.8,474.0 491.2,474.3 494.1,475.1 499.8,478.0 504.1,480.7 512.8,487.5 517.1,490.7 521.4,493.4 531.4,499.3 542.9,507.4 548.6,511.3 552.9,513.8 557.2,515.8 561.5,517.5 565.8,518.8 571.6,519.9 577.3,520.8 583.1,521.3 590.2,521.7 600.3,521.8 670.6,521.8" fill="none" stroke="#3c47a6" stroke-width="0.9" stroke-linejoin="round"/>
<path d="M383.6,521.8 416.6,521.8 422.3,521.6 428.1,520.9 432.4,520.1 436.7,519.0 439.6,518.0 442.4,516.1 448.2,510.8 456.8,501.6 469.7,487.0 474.0,482.6 478.3,478.5 481.2,476.3 484.1,474.5 486.9,473.5 488.4,473.2 489.8,473.1 494.1,474.3 498.4,476.4 502.7,478.9 517.1,490.0 521.4,492.9 531.4,498.8 545.8,509.1 551.5,512.8 554.4,514.3 558.7,516.3 565.8,518.7 571.6,519.9 577.3,520.7 583.1,521.3 590.2,521.7 600.3,521.8 670.6,521.8" fill="none" stroke="#3c47a6" stroke-width="0.9" stroke-linejoin="round"/>
<path d="M383.6,521.8 416.6,521.8 422.3,521.6 426.7,521.2 432.4,520.3 436.7,519.3 439.6,518.3 442.4,516.6 448.2,511.6 456.8,502.6 469.7,488.2 474.0,483.8 478.3,479.7 481.2,477.5 484.1,475.6 486.9,474.4 489.8,473.8 492.7,474.4 495.5,475.4 499.8,477.5 502.7,479.2 505.6,481.1 514.2,488.0 518.5,491.1 522.8,493.8 532.8,499.7 545.8,508.9 551.5,512.5 554.4,514.1 558.7,516.1 565.8,518.6 571.6,519.8 577.3,520.7 583.1,521.2 591.7,521.7 670.6,521.8" fill="none" stroke="#3c47a6" stroke-width="0.9" stroke-linejoin="round"/>
<path d="M383.6,521.8 418.0,521.8 423.8,521.6 429.5,520.9 433.8,520.2 438.1,519.1 441.0,518.0 443.9,516.1 449.6,511.0 458.2,502.0 471.1,487.7 475.4,483.4 479.7,479.5 482.6,477.3 485.5,475.6 488.4,474.6 489.8,474.2 491.2,474.2 495.5,475.4 499.8,477.4 504.1,479.9 518.5,490.8 522.8,493.5 532.8,499.4 547.2,509.4 552.9,513.0 558.7,515.8 565.8,518.4 570.2,519.4 577.3,520.6 583.1,521.2 591.7,521.7 601.7,521.8 670.6,521.8" fill="none" stroke="#3c47a6" stroke-width="0.9" stroke-linejoin="round"/>
<path d="M383.6,521.8 419.5,521.8 425.2,521.6 431.0,520.9 435.3,520.1 439.6,519.0 442.4,517.9 445.3,515.9 451.0,510.7 459.7,501.5 471.1,488.5 475.4,484.0 479.7,479.8 482.6,477.4 485.5,475.4 488.4,474.1 491.2,473.3 492.7,473.4 494.1,473.6 497.0,474.5 502.7,477.4 507.0,480.2 515.6,487.1 519.9,490.3 524.2,493.1 534.3,499.0 545.8,507.3 551.5,511.1 555.8,513.7 558.7,515.1 563.0,516.9 567.3,518.3 571.6,519.4 578.8,520.6 584.5,521.2 593.1,521.7 603.2,521.8 670.6,521.8" fill="none" stroke="#3c47a6" stroke-width="0.9" stroke-linejoin="round"/>
<path d="M383.6,521.8 418.0,521.8 423.8,521.6 428.1,521.2 433.8,520.3 438.1,519.2 441.0,518.2 443.9,516.5 449.6,511.4 458.2,502.2 471.1,487.6 475.4,483.2 479.7,479.0 482.6,476.8 485.5,474.9 488.4,473.7 489.8,473.3 491.2,473.1 494.1,473.7 497.0,474.7 501.3,476.9 504.1,478.6 507.0,480.6 515.6,487.5 519.9,490.6 524.2,493.4 534.3,499.4 547.2,508.7 552.9,512.4 555.8,514.1 560.1,516.0 567.3,518.5 573.0,519.8 578.8,520.7 584.5,521.2 591.7,521.6 601.7,521.8 670.6,521.8" fill="none" stroke="#3c47a6" stroke-width="0.9" stroke-linejoin="round"/>
<path d="M383.6,521.8 418.0,521.8 423.8,521.6 428.1,521.2 433.8,520.3 438.1,519.2 441.0,518.2 443.9,516.6 449.6,511.5 458.2,502.3 471.1,487.7 475.4,483.3 479.7,479.1 482.6,476.9 485.5,474.9 488.4,473.7 491.2,473.2 494.1,473.7 497.0,474.7 501.3,476.9 504.1,478.6 507.0,480.6 515.6,487.5 519.9,490.6 524.2,493.4 534.3,499.4 547.2,508.7 552.9,512.4 555.8,514.0 560.1,516.0 567.3,518.5 571.6,519.5 578.8,520.6 584.5,521.2 593.1,521.7 670.6,521.8" fill="none" stroke="#3c47a6" stroke-width="0.9" stroke-linejoin="round"/>
<path d="M383.6,521.8 418.0,521.8 423.8,521.5 432.4,520.3 436.7,519.3 439.6,518.3 441.0,517.6 442.4,516.7 448.2,511.6 456.8,502.5 469.7,487.9 474.0,483.4 478.3,479.3 481.2,477.0 484.1,475.1 486.9,473.9 489.8,473.3 491.2,473.4 494.1,474.2 497.0,475.4 501.3,477.7 505.6,480.6 514.2,487.5 518.5,490.6 522.8,493.4 532.8,499.3 544.3,507.6 550.1,511.4 554.4,514.0 557.2,515.4 561.5,517.1 565.8,518.5 570.2,519.5 577.3,520.6 583.1,521.2 591.7,521.7 670.6,521.8" fill="none" stroke="#3c47a6" stroke-width="0.9" stroke-linejoin="round"/>
<path d="M383.6,521.8 419.5,521.8 425.2,521.6 429.5,521.2 435.3,520.2 439.6,519.1 442.4,518.0 445.3,516.2 451.0,510.9 459.7,501.6 472.6,486.7 476.9,482.1 481.2,477.9 484.1,475.6 486.9,473.7 489.8,472.6 491.2,472.2 492.7,472.1 495.5,472.7 498.4,473.8 502.7,476.0 505.6,477.8 508.4,479.9 517.1,487.0 519.9,489.1 524.2,492.0 535.7,499.1 548.6,508.6 554.4,512.3 557.2,514.0 561.5,516.0 568.7,518.5 574.5,519.8 580.2,520.7 585.9,521.2 593.1,521.6 603.2,521.8 670.6,521.8" fill="none" stroke="#3c47a6" stroke-width="0.9" stroke-linejoin="round"/>
<path d="M383.6,521.8 419.5,521.8 423.8,521.6 428.1,521.2 433.8,520.3 438.1,519.3 441.0,518.3 442.4,517.6 443.9,516.6 449.6,511.5 458.2,502.2 471.1,487.4 475.4,482.8 479.7,478.6 482.6,476.3 485.5,474.3 488.4,473.1 491.2,472.4 492.7,472.5 495.5,473.3 498.4,474.6 502.7,476.9 507.0,479.8 515.6,486.8 519.9,490.0 524.2,492.9 534.3,498.9 545.8,507.3 551.5,511.2 555.8,513.8 558.7,515.2 563.0,517.0 567.3,518.4 571.6,519.4 578.8,520.6 584.5,521.2 593.1,521.7 670.6,521.8" fill="none" stroke="#3c47a6" stroke-width="0.9" stroke-linejoin="round"/>
<path d="M383.6,521.8 416.6,521.8 422.3,521.6 426.7,521.2 432.4,520.3 436.7,519.2 439.6,518.2 442.4,516.6 448.2,511.5 456.8,502.4 469.7,488.0 474.0,483.5 478.3,479.4 481.2,477.2 484.1,475.3 486.9,474.1 489.8,473.6 492.7,474.1 495.5,475.1 499.8,477.3 502.7,479.0 505.6,480.9 514.2,487.8 518.5,490.9 522.8,493.7 532.8,499.6 545.8,508.8 551.5,512.5 554.4,514.1 558.7,516.1 565.8,518.5 571.6,519.8 577.3,520.7 583.1,521.2 591.7,521.7 670.6,521.8" fill="none" stroke="#3c47a6" stroke-width="0.9" stroke-linejoin="round"/>
<path d="M383.6,521.8 416.6,521.8 422.3,521.6 428.1,520.9 432.4,520.2 436.7,519.1 439.6,518.0 442.4,516.1 448.2,511.0 456.8,501.9 469.7,487.4 474.0,483.0 478.3,479.0 481.2,476.9 484.1,475.1 486.9,474.0 488.4,473.7 489.8,473.7 494.1,474.8 498.4,476.8 502.7,479.4 517.1,490.3 521.4,493.2 531.4,499.0 545.8,509.2 551.5,512.8 554.4,514.4 558.7,516.3 565.8,518.7 571.6,519.9 577.3,520.7 583.1,521.3 590.2,521.7 600.3,521.8 670.6,521.8" fill="none" stroke="#3c47a6" stroke-width="0.9" stroke-linejoin="round"/>
<path d="M383.6,521.8 418.0,521.8 423.8,521.6 429.5,520.9 433.8,520.1 438.1,518.9 441.0,517.8 443.9,515.8 449.6,510.4 458.2,501.1 469.7,487.9 474.0,483.3 478.3,479.1 481.2,476.7 484.1,474.7 486.9,473.3 489.8,472.6 491.2,472.6 492.7,473.0 495.5,473.9 501.3,476.8 505.6,479.7 514.2,486.7 518.5,489.9 522.8,492.7 532.8,498.7 544.3,507.1 550.1,511.0 554.4,513.6 557.2,515.1 561.5,516.9 565.8,518.3 570.2,519.3 577.3,520.6 583.1,521.2 591.7,521.7 600.3,521.8 670.6,521.8" fill="none" stroke="#3c47a6" stroke-width="0.9" stroke-linejoin="round"/>
<path d="M383.6,521.8 418.0,521.8 423.8,521.6 429.5,520.9 433.8,520.1 438.1,518.9 441.0,517.7 443.9,515.7 449.6,510.3 458.2,501.0 469.7,487.7 474.0,483.2 478.3,478.9 481.2,476.5 484.1,474.5 486.9,473.2 489.8,472.4 491.2,472.5 492.7,472.8 495.5,473.7 501.3,476.7 505.6,479.5 514.2,486.6 518.5,489.8 522.8,492.6 532.8,498.7 544.3,507.1 550.1,511.0 554.4,513.6 557.2,515.1 561.5,516.9 565.8,518.3 570.2,519.3 577.3,520.6 583.1,521.2 591.7,521.7 670.6,521.8" fill="none" stroke="#3c47a6" stroke-width="0.9" stroke-linejoin="round"/>
<path d="M383.6,521.8 419.5,521.8 425.2,521.6 431.0,520.9 435.3,520.1 439.6,518.9 442.4,517.8 445.3,515.8 451.0,510.4 459.7,501.0 471.1,487.7 475.4,483.1 479.7,478.8 482.6,476.4 485.5,474.4 488.4,473.0 491.2,472.2 492.7,472.2 494.1,472.5 497.0,473.4 502.7,476.4 507.0,479.2 515.6,486.3 519.9,489.5 524.2,492.4 534.3,498.5 545.8,506.9 551.5,510.9 555.8,513.5 558.7,515.0 563.0,516.8 567.3,518.3 571.6,519.3 578.8,520.5 584.5,521.2 593.1,521.7 603.2,521.8 670.6,521.8" fill="none" stroke="#3c47a6" stroke-width="0.9" stroke-linejoin="round"/>
<path d="M383.6,521.8 416.6,521.8 422.3,521.6 426.7,521.2 432.4,520.3 436.7,519.3 439.6,518.3 442.4,516.6 448.2,511.6 456.8,502.6 469.7,488.4 474.0,484.0 478.3,480.0 481.2,477.8 484.1,475.9 486.9,474.8 488.4,474.4 489.8,474.3 492.7,474.8 495.5,475.8 499.8,477.9 502.7,479.6 505.6,481.6 514.2,488.4 518.5,491.4 532.8,499.9 545.8,509.0 551.5,512.7 554.4,514.3 558.7,516.2 565.8,518.6 571.6,519.8 577.3,520.7 583.1,521.2 590.2,521.6 600.3,521.8 670.6,521.8" fill="none" stroke="#3c47a6" stroke-width="0.9" stroke-linejoin="round"/>
<path d="M383.6,521.8 418.0,521.8 423.8,521.6 429.5,520.9 433.8,520.1 438.1,519.0 441.0,517.9 443.9,515.9 449.6,510.6 458.2,501.2 471.1,486.4 475.4,481.9 479.7,477.8 482.6,475.6 485.5,473.7 488.4,472.6 489.8,472.3 491.2,472.3 495.5,473.5 499.8,475.6 504.1,478.2 518.5,489.5 522.8,492.4 532.8,498.4 547.2,508.9 552.9,512.6 558.7,515.6 565.8,518.2 570.2,519.3 577.3,520.5 583.1,521.1 591.7,521.7 601.7,521.8 670.6,521.8" fill="none" stroke="#3c47a6" stroke-width="0.9" stroke-linejoin="round"/>
<path d="M383.6,521.8 418.0,521.8 423.8,521.6 429.5,520.9 433.8,520.1 438.1,518.9 441.0,517.7 443.9,515.7 449.6,510.3 458.2,500.9 469.7,487.6 474.0,483.0 478.3,478.7 481.2,476.3 484.1,474.3 486.9,472.9 489.8,472.1 491.2,472.2 492.7,472.5 495.5,473.4 501.3,476.4 505.6,479.3 514.2,486.3 518.5,489.6 522.8,492.4 532.8,498.5 544.3,507.0 550.1,510.9 554.4,513.6 557.2,515.0 561.5,516.8 565.8,518.3 570.2,519.3 577.3,520.6 583.1,521.2 591.7,521.7 600.3,521.8 670.6,521.8" fill="none" stroke="#3c47a6" stroke-width="0.9" stroke-linejoin="round"/>
<path d="M383.6,521.8 418.0,521.8 423.8,521.6 428.1,521.2 433.8,520.3 438.1,519.3 441.0,518.3 443.9,516.6 449.6,511.6 458.2,502.6 471.1,488.3 475.4,483.9 479.7,479.9 482.6,477.7 485.5,475.8 488.4,474.6 489.8,474.2 491.2,474.1 494.1,474.6 497.0,475.7 501.3,477.8 504.1,479.5 507.0,481.4 515.6,488.2 519.9,491.3 534.3,499.9 547.2,509.0 552.9,512.6 555.8,514.2 560.1,516.2 567.3,518.6 573.0,519.8 578.8,520.7 584.5,521.2 591.7,521.6 601.7,521.8 670.6,521.8" fill="none" stroke="#3c47a6" stroke-width="0.9" stroke-linejoin="round"/>
<path d="M383.6,521.8 418.0,521.8 423.8,521.5 432.4,520.3 436.7,519.2 439.6,518.2 441.0,517.5 442.4,516.6 448.2,511.4 456.8,502.2 469.7,487.4 474.0,482.9 478.3,478.7 481.2,476.4 484.1,474.4 486.9,473.2 489.8,472.6 492.7,473.1 495.5,474.1 499.8,476.3 502.7,478.0 505.6,480.0 514.2,487.0 518.5,490.2 522.8,493.0 532.8,499.0 545.8,508.4 551.5,512.2 554.4,513.9 558.7,515.9 565.8,518.4 570.2,519.4 577.3,520.6 583.1,521.2 591.7,521.7 670.6,521.8" fill="none" stroke="#3c47a6" stroke-width="0.9" stroke-linejoin="round"/>
<path d="M383.6,521.8 418.0,521.8 423.8,521.6 429.5,520.9 433.8,520.1 438.1,518.9 441.0,517.8 443.9,515.8 446.7,513.3 449.6,510.5 458.2,501.5 469.7,488.7 474.0,484.3 478.3,480.2 481.2,477.9 484.1,476.0 486.9,474.7 489.8,474.1 491.2,474.2 494.1,474.9 497.0,476.1 501.3,478.3 505.6,481.1 514.2,487.9 518.5,491.0 522.8,493.7 532.8,499.6 544.3,507.7 550.1,511.5 554.4,514.0 557.2,515.4 561.5,517.1 565.8,518.5 570.2,519.5 577.3,520.6 583.1,521.2 591.7,521.7 670.6,521.8" fill="none" stroke="#3c47a6" stroke-width="0.9" stroke-linejoin="round"/>
<path d="M383.6,521.8 419.5,521.8 425.2,521.5 433.8,520.3 438.1,519.3 441.0,518.3 442.4,517.6 443.9,516.7 449.6,511.6 458.2,502.3 471.1,487.4 475.4,482.8 479.7,478.5 482.6,476.2 485.5,474.2 488.4,472.8 491.2,472.2 492.7,472.2 495.5,473.0 498.4,474.2 502.7,476.6 507.0,479.4 515.6,486.5 519.9,489.7 524.2,492.6 534.3,498.7 545.8,507.1 551.5,511.1 555.8,513.7 558.7,515.1 563.0,516.9 567.3,518.3 571.6,519.4 578.8,520.6 584.5,521.2 593.1,521.7 670.6,521.8" fill="none" stroke="#3c47a6" stroke-width="0.9" stroke-linejoin="round"/>
<path d="M383.6,521.8 416.6,521.8 422.3,521.6 426.7,521.2 432.4,520.3 436.7,519.3 439.6,518.3 442.4,516.7 448.2,511.7 456.8,502.7 469.7,488.3 474.0,483.9 478.3,479.9 481.2,477.6 484.1,475.8 486.9,474.6 489.8,474.0 492.7,474.5 495.5,475.5 499.8,477.6 502.7,479.3 505.6,481.3 514.2,488.1 518.5,491.2 522.8,493.9 532.8,499.7 545.8,508.9 551.5,512.5 554.4,514.2 558.7,516.1 565.8,518.6 570.2,519.5 577.3,520.7 583.1,521.2 591.7,521.7 670.6,521.8" fill="none" stroke="#3c47a6" stroke-width="0.9" stroke-linejoin="round"/>
<path d="M384.0,566.8V646.8H670.6" fill="none" stroke="#6a6a6a" stroke-width="1.5"/>
<line x1="383.60" y1="566.80" x2="386.20" y2="566.80" stroke="#333333" stroke-width="1.1"/>
<text x="381.00" y="570.10" text-anchor="end" font-family="Liberation Sans, sans-serif" font-size="10" fill="#222">0.015</text>
<line x1="383.60" y1="593.47" x2="386.20" y2="593.47" stroke="#333333" stroke-width="1.1"/>
<text x="381.00" y="596.77" text-anchor="end" font-family="Liberation Sans, sans-serif" font-size="10" fill="#222">0.01</text>
<line x1="383.60" y1="620.13" x2="386.20" y2="620.13" stroke="#333333" stroke-width="1.1"/>
<text x="381.00" y="623.43" text-anchor="end" font-family="Liberation Sans, sans-serif" font-size="10" fill="#222">0.005</text>
<line x1="383.60" y1="646.80" x2="386.20" y2="646.80" stroke="#333333" stroke-width="1.1"/>
<text x="381.00" y="650.10" text-anchor="end" font-family="Liberation Sans, sans-serif" font-size="10" fill="#222">0</text>
<line x1="383.60" y1="646.80" x2="383.60" y2="644.20" stroke="#333333" stroke-width="1.1"/>
<text x="383.60" y="659.20" text-anchor="middle" font-family="Liberation Sans, sans-serif" font-size="10" fill="#222">0</text>
<line x1="441.00" y1="646.80" x2="441.00" y2="644.20" stroke="#333333" stroke-width="1.1"/>
<text x="441.00" y="659.20" text-anchor="middle" font-family="Liberation Sans, sans-serif" font-size="10" fill="#222">200</text>
<line x1="498.40" y1="646.80" x2="498.40" y2="644.20" stroke="#333333" stroke-width="1.1"/>
<text x="498.40" y="659.20" text-anchor="middle" font-family="Liberation Sans, sans-serif" font-size="10" fill="#222">400</text>
<line x1="555.80" y1="646.80" x2="555.80" y2="644.20" stroke="#333333" stroke-width="1.1"/>
<text x="555.80" y="659.20" text-anchor="middle" font-family="Liberation Sans, sans-serif" font-size="10" fill="#222">600</text>
<line x1="613.20" y1="646.80" x2="613.20" y2="644.20" stroke="#333333" stroke-width="1.1"/>
<text x="613.20" y="659.20" text-anchor="middle" font-family="Liberation Sans, sans-serif" font-size="10" fill="#222">800</text>
<line x1="670.60" y1="646.80" x2="670.60" y2="644.20" stroke="#333333" stroke-width="1.1"/>
<text x="670.60" y="659.20" text-anchor="middle" font-family="Liberation Sans, sans-serif" font-size="10" fill="#222">1000</text>
<text x="527.10" y="557.5" text-anchor="middle" font-family="Liberation Sans, sans-serif" font-size="12" font-weight="bold" fill="#111">Insert Size</text>
<text x="341" y="558.5" font-family="Liberation Sans, sans-serif" font-size="20.8" fill="#111" style="stroke-width:0.6px">G</text>
<text transform="translate(350.2,606.80) rotate(-90)" text-anchor="middle" font-family="Liberation Sans, sans-serif" font-size="10" font-weight="bold" fill="#111">Density</text>
<path d="M383.6,646.8 398.7,646.7 413.0,645.9 431.0,644.1 449.6,641.5 476.2,641.8 509.9,643.0 512.8,643.0 514.9,642.7 516.3,642.1 517.8,641.2 519.2,639.5 520.6,637.0 522.1,633.5 523.5,629.0 527.1,615.3 528.5,610.5 530.0,607.3 530.7,606.4 531.4,606.2 532.1,606.6 532.8,607.8 534.3,612.3 538.6,631.5 539.3,635.4 540.7,640.7 541.5,642.4 542.9,644.5 544.3,645.6 545.8,646.1 548.6,646.6 552.9,646.8 670.6,646.8" fill="none" stroke="#e0303a" stroke-width="0.9" stroke-linejoin="round"/>
<path d="M383.6,646.8 398.7,646.7 413.0,645.9 431.0,644.1 449.6,641.5 462.5,641.6 480.5,642.1 484.1,641.9 486.2,641.5 488.4,640.5 489.8,639.4 491.9,636.8 493.4,634.3 496.2,627.5 500.6,614.4 502.7,608.6 504.1,605.8 504.9,604.9 505.6,604.4 506.3,604.1 507.0,604.3 508.4,605.5 509.2,606.5 510.6,609.3 512.8,615.0 517.8,629.7 519.9,634.7 521.4,637.4 522.8,639.6 524.9,641.9 527.1,643.3 530.0,644.4 533.6,644.9 538.6,645.3 541.5,645.9 545.0,646.4 551.5,646.8 670.6,646.8" fill="none" stroke="#e0303a" stroke-width="0.9" stroke-linejoin="round"/>
<path d="M383.6,646.8 397.2,646.8 408.0,646.3 418.0,645.5 428.1,644.4 449.6,641.5 469.7,641.6 474.0,641.3 477.6,640.6 479.7,639.9 481.9,638.9 485.5,636.4 487.6,634.3 489.8,631.8 497.0,622.1 499.8,618.7 501.3,617.4 502.7,616.4 504.1,615.9 505.6,615.7 507.0,616.1 508.4,616.9 509.9,618.1 511.3,619.7 513.5,622.6 521.4,634.6 524.2,638.1 526.4,640.1 529.3,642.1 532.1,643.5 534.3,644.1 538.6,644.9 542.9,646.1 547.2,646.6 552.2,646.8 670.6,646.8" fill="none" stroke="#e0303a" stroke-width="0.9" stroke-linejoin="round"/>
<path d="M383.6,646.8 398.7,646.7 413.0,645.9 431.0,644.1 449.6,641.5 479.7,641.9 484.1,641.7 487.6,641.1 489.8,640.5 491.9,639.6 495.5,637.2 497.7,635.2 499.8,632.7 506.3,624.3 508.4,621.8 509.9,620.5 511.3,619.5 512.8,618.8 514.2,618.6 514.9,618.6 516.3,619.1 517.8,620.2 519.2,621.6 521.4,624.5 528.5,635.5 530.7,638.2 532.8,640.3 535.7,642.4 538.6,643.7 540.7,645.0 542.9,645.8 545.0,646.2 548.6,646.7 552.9,646.8 670.6,646.8" fill="none" stroke="#e0303a" stroke-width="0.9" stroke-linejoin="round"/>
<path d="M383.6,646.8 395.8,646.8 402.3,646.6 412.3,646.0 423.1,645.0 433.8,643.7 441.7,642.5 452.5,640.2 456.1,639.2 458.9,637.9 461.1,636.7 463.2,635.1 465.4,633.2 467.5,630.9 470.4,627.4 478.3,616.4 481.9,611.9 484.1,609.9 485.5,608.9 487.6,608.0 489.1,607.8 490.5,607.9 492.7,608.8 494.1,609.9 496.2,611.9 499.8,616.5 509.9,631.5 512.8,635.0 515.6,638.0 518.5,640.3 521.4,642.0 524.9,643.5 528.5,644.5 532.1,645.1 538.6,645.7 542.9,646.4 550.1,646.8 670.6,646.8" fill="none" stroke="#e0303a" stroke-width="0.9" stroke-linejoin="round"/>
<path d="M383.6,646.8 395.8,646.8 403.0,646.6 413.7,645.8 424.5,644.8 433.1,643.7 440.3,642.5 445.3,641.4 453.9,639.0 456.8,638.0 459.7,636.6 462.5,634.9 465.4,632.9 470.4,628.4 480.5,618.3 484.8,614.7 488.4,612.8 490.5,612.2 491.9,612.1 494.1,612.3 496.2,613.1 498.4,614.4 500.6,616.2 504.1,620.0 512.0,629.7 515.6,633.7 519.2,637.1 522.8,639.8 526.4,641.9 530.0,643.3 533.6,644.3 538.6,645.1 542.2,646.1 546.5,646.6 552.2,646.8 670.6,646.8" fill="none" stroke="#e0303a" stroke-width="0.9" stroke-linejoin="round"/>
<path d="M383.6,646.8 399.4,646.7 414.5,645.8 430.2,644.0 436.7,642.9 441.7,641.7 446.0,640.5 449.6,639.3 454.6,637.9 459.7,636.1 463.2,634.4 467.5,632.1 480.5,623.9 485.5,621.1 488.4,619.9 491.2,619.0 494.1,618.5 496.2,618.4 498.4,618.6 501.3,619.2 503.4,620.0 506.3,621.5 511.3,624.8 522.8,633.7 528.5,637.6 533.6,640.3 538.6,642.3 540.0,643.5 542.2,644.9 544.3,645.7 547.2,646.4 552.9,646.8 670.6,646.8" fill="none" stroke="#e0303a" stroke-width="0.9" stroke-linejoin="round"/>
<path d="M383.6,646.8 398.0,646.7 411.6,646.0 425.9,644.4 437.4,642.4 443.9,640.8 449.6,638.9 456.1,637.2 461.1,635.5 468.3,632.5 481.9,625.9 487.6,623.6 493.4,622.1 498.4,621.7 501.3,621.8 503.4,622.2 506.3,623.1 509.2,624.4 514.2,627.3 524.9,634.6 530.0,637.7 534.3,639.9 538.6,641.7 540.7,643.6 542.9,645.0 545.0,645.8 547.9,646.5 552.9,646.8 670.6,646.8" fill="none" stroke="#e0303a" stroke-width="0.9" stroke-linejoin="round"/>
<path d="M383.6,646.8 397.2,646.8 408.0,646.2 420.9,645.0 432.4,643.3 440.3,641.7 449.6,639.1 456.1,637.8 461.8,636.3 469.0,634.0 483.3,629.0 489.8,627.1 496.2,625.9 502.0,625.5 504.9,625.6 507.7,626.0 510.6,626.8 514.2,628.1 519.2,630.6 531.4,637.5 538.6,640.8 540.7,643.0 543.6,645.0 546.5,646.1 549.3,646.6 552.9,646.8 670.6,646.8" fill="none" stroke="#e0303a" stroke-width="0.9" stroke-linejoin="round"/>
<path d="M383.6,646.8 397.2,646.8 407.3,646.3 419.5,645.2 430.2,643.7 439.6,641.8 444.6,640.5 449.6,639.0 459.7,636.7 477.6,631.3 483.3,629.7 489.8,628.5 496.2,628.1 501.3,628.5 506.3,629.8 511.3,632.0 522.1,637.7 527.8,640.4 532.8,642.2 538.6,643.7 540.7,644.9 542.9,645.7 547.2,646.5 552.9,646.8 670.6,646.8" fill="none" stroke="#e0303a" stroke-width="0.9" stroke-linejoin="round"/>
<path d="M383.6,646.8 396.5,646.8 405.1,646.4 416.6,645.5 428.1,644.2 439.6,642.3 449.6,640.0 457.5,639.0 465.4,637.6 493.4,631.2 500.6,630.1 507.0,629.8 511.3,630.0 515.6,630.6 519.9,631.7 524.9,633.5 538.6,639.1 541.5,642.5 544.3,644.7 547.2,646.0 550.8,646.7 670.6,646.8" fill="none" stroke="#e0303a" stroke-width="0.9" stroke-linejoin="round"/>
<path d="M383.6,646.8 400.8,646.7 409.4,646.2 418.8,645.4 427.4,644.4 433.8,643.4 439.6,642.2 443.9,640.9 446.7,639.8 452.5,637.1 457.5,634.0 460.4,631.7 463.2,629.0 473.3,618.3 477.6,614.2 479.7,612.6 481.9,611.4 484.1,610.6 486.2,610.3 488.4,610.6 490.5,611.4 492.7,612.8 494.8,614.7 498.4,618.7 509.2,632.3 512.8,636.1 515.6,638.5 518.5,640.5 522.1,642.4 525.7,643.7 529.3,644.6 542.9,646.4 550.1,646.8 670.6,646.8" fill="none" stroke="#e0303a" stroke-width="0.9" stroke-linejoin="round"/>
<path d="M383.6,646.8 418.0,646.8 444.6,645.0 447.5,644.4 449.6,643.3 451.0,641.7 451.8,640.4 453.2,636.6 453.9,633.9 456.1,622.2 460.4,590.4 461.8,583.4 462.5,581.6 463.2,581.2 464.7,582.1 466.1,584.0 467.5,586.8 469.0,590.5 471.1,597.2 478.3,622.1 480.5,628.3 482.6,633.5 484.8,637.5 486.2,639.6 487.6,641.4 490.5,643.8 491.9,644.6 494.1,645.4 497.0,646.1 499.8,646.4 510.6,646.7 670.6,646.8" fill="none" stroke="#3c47a6" stroke-width="1.0" stroke-linejoin="round"/>
<path d="M383.6,646.8 418.0,646.8 451.0,644.5 453.2,644.0 454.6,643.3 456.1,642.1 457.5,640.0 458.9,636.6 460.4,631.8 462.5,621.2 467.5,590.3 469.0,584.6 469.7,583.0 470.4,582.3 471.1,582.4 471.9,582.8 473.3,584.4 474.7,586.8 476.2,589.9 479.0,598.1 486.2,621.4 489.1,629.2 491.2,633.9 493.4,637.7 496.2,641.3 499.1,643.7 500.6,644.5 502.7,645.3 505.6,646.0 508.4,646.4 518.5,646.7 670.6,646.8" fill="none" stroke="#3c47a6" stroke-width="1.0" stroke-linejoin="round"/>
<path d="M383.6,646.8 418.0,646.8 445.3,644.9 448.9,644.3 451.0,643.4 452.5,642.2 453.9,640.0 455.4,636.7 456.1,634.4 458.2,625.2 461.8,604.8 463.2,597.6 464.7,592.8 465.4,591.6 466.1,591.4 467.5,591.9 469.0,593.0 470.4,594.6 472.6,597.9 476.2,605.2 484.8,625.2 487.6,630.8 490.5,635.5 493.4,639.1 496.2,641.8 499.8,644.0 503.4,645.3 506.3,645.9 509.9,646.4 520.6,646.7 670.6,646.8" fill="none" stroke="#3c47a6" stroke-width="1.0" stroke-linejoin="round"/>
<path d="M383.6,646.8 418.0,646.8 446.7,644.8 450.3,644.1 452.5,643.2 453.9,642.0 455.4,640.1 456.8,637.2 458.2,633.1 460.4,624.7 464.0,607.2 465.4,601.0 466.8,596.5 467.5,595.2 468.3,594.6 469.7,594.9 471.9,596.3 473.3,597.8 475.4,600.8 479.0,607.4 488.4,626.9 491.2,632.0 494.1,636.2 497.0,639.4 499.8,641.9 503.4,644.0 507.0,645.3 510.6,646.0 514.2,646.4 524.9,646.7 670.6,646.8" fill="none" stroke="#3c47a6" stroke-width="1.0" stroke-linejoin="round"/>
<path d="M383.6,646.8 418.0,646.8 445.3,644.9 448.9,644.2 451.8,643.1 453.2,642.1 454.6,640.5 456.1,638.3 457.5,635.2 458.9,631.3 460.4,626.5 464.7,609.9 466.1,605.1 467.5,601.5 468.3,600.3 469.0,599.6 469.7,599.3 471.9,600.0 474.0,601.3 476.2,603.2 478.3,605.6 482.6,611.7 489.8,623.3 493.4,628.8 497.0,633.5 499.8,636.7 503.4,639.9 507.0,642.3 510.6,644.0 514.9,645.3 518.5,645.9 522.8,646.4 534.3,646.7 670.6,646.8" fill="none" stroke="#3c47a6" stroke-width="1.0" stroke-linejoin="round"/>
<path d="M383.6,646.8 418.0,646.8 445.3,644.9 448.2,644.4 450.3,643.4 451.8,642.1 453.2,639.7 454.6,635.8 455.4,633.2 457.5,622.7 461.8,596.4 463.2,590.9 464.0,589.5 464.7,589.2 466.1,589.9 467.5,591.3 469.0,593.4 470.4,596.1 473.3,603.0 481.2,624.8 484.1,631.3 486.2,635.3 489.1,639.4 491.9,642.3 494.8,644.2 498.4,645.5 501.3,646.1 504.1,646.4 514.9,646.7 670.6,646.8" fill="none" stroke="#3c47a6" stroke-width="1.0" stroke-linejoin="round"/>
<path d="M383.6,646.8 418.0,646.8 448.2,644.7 451.8,644.1 453.9,642.9 455.4,641.4 456.8,638.9 458.2,635.1 458.9,632.6 461.1,622.8 466.1,594.0 467.5,588.7 468.3,587.2 469.0,586.6 470.4,587.0 471.9,588.2 473.3,590.1 475.4,594.1 478.3,601.1 484.1,617.1 486.9,624.6 489.8,631.1 491.9,635.0 494.8,639.1 497.7,642.0 500.6,643.9 504.1,645.4 507.0,646.0 510.6,646.4 520.6,646.7 670.6,646.8" fill="none" stroke="#3c47a6" stroke-width="1.0" stroke-linejoin="round"/>
<path d="M383.6,646.8 418.0,646.8 445.3,644.9 448.9,644.3 451.0,643.5 452.5,642.4 453.9,640.6 455.4,637.7 456.8,633.5 458.9,624.6 462.5,605.6 464.0,599.0 465.4,594.5 466.1,593.3 466.8,592.9 468.3,593.4 470.4,594.9 471.9,596.4 474.0,599.4 477.6,605.9 484.8,621.1 487.6,626.7 490.5,631.7 493.4,635.8 496.2,639.1 499.8,642.1 503.4,644.1 507.0,645.3 510.6,646.0 514.2,646.4 524.9,646.7 670.6,646.8" fill="none" stroke="#3c47a6" stroke-width="1.0" stroke-linejoin="round"/>
<path d="M383.6,646.8 418.0,646.8 445.3,644.9 448.2,644.4 450.3,643.4 451.8,642.2 453.2,640.2 454.6,637.0 455.4,634.9 457.5,626.3 461.1,607.7 462.5,601.3 464.0,597.2 464.7,596.3 465.4,596.2 466.8,596.7 469.0,598.1 471.1,600.3 473.3,603.2 476.9,609.1 484.1,622.6 486.9,627.7 489.8,632.1 492.7,635.9 495.5,639.0 499.1,641.8 502.7,643.8 507.0,645.3 510.6,645.9 514.2,646.3 525.7,646.7 670.6,646.8" fill="none" stroke="#3c47a6" stroke-width="1.0" stroke-linejoin="round"/>
<path d="M383.6,646.8 418.0,646.8 447.5,644.8 451.8,644.2 453.9,643.4 455.4,642.3 456.8,640.6 458.2,638.0 459.7,634.4 461.1,629.5 462.5,623.4 466.8,602.0 468.3,596.1 469.7,592.2 470.4,591.1 471.1,590.8 472.6,591.3 474.7,593.1 476.2,594.9 478.3,598.5 481.2,604.4 489.8,624.7 492.7,630.4 495.5,635.2 498.4,638.9 501.3,641.6 504.9,643.9 508.4,645.3 511.3,645.9 514.9,646.4 525.7,646.7 670.6,646.8" fill="none" stroke="#3c47a6" stroke-width="1.0" stroke-linejoin="round"/>
<path d="M383.6,646.8 418.0,646.8 445.3,644.9 450.3,644.1 453.2,643.2 455.4,641.8 456.8,640.4 458.2,638.5 459.7,636.0 462.5,629.3 468.3,611.6 469.7,607.7 471.1,604.6 471.9,603.5 473.3,602.2 474.0,602.0 475.4,602.4 477.6,603.6 479.7,605.4 481.9,607.9 485.5,613.1 495.5,629.5 499.1,634.4 502.0,637.6 504.9,640.2 508.4,642.7 512.0,644.3 515.6,645.4 519.2,646.0 522.8,646.4 534.3,646.7 670.6,646.8" fill="none" stroke="#3c47a6" stroke-width="1.0" stroke-linejoin="round"/>
<path d="M383.6,646.8 418.0,646.8 445.3,644.9 448.2,644.4 450.3,643.5 451.8,642.1 452.5,641.0 453.9,637.7 454.6,635.5 456.8,625.8 461.1,600.2 462.5,594.9 463.2,593.7 464.0,593.5 465.4,594.1 467.5,595.8 469.0,597.5 471.1,600.8 474.7,607.7 483.3,626.2 486.2,631.4 489.1,635.7 491.9,639.1 495.5,642.2 499.1,644.2 502.7,645.4 506.3,646.1 509.9,646.4 520.6,646.7 670.6,646.8" fill="none" stroke="#3c47a6" stroke-width="1.0" stroke-linejoin="round"/>
<path d="M383.6,646.8 418.0,646.8 446.7,644.8 451.0,644.1 452.5,643.7 453.9,643.0 455.4,642.0 456.8,640.4 458.2,638.2 459.7,635.2 461.1,631.3 462.5,626.7 467.5,607.1 469.0,602.3 470.4,598.8 471.1,597.6 471.9,596.9 472.6,596.7 474.0,597.1 476.2,598.6 477.6,600.1 479.7,603.1 483.3,609.6 491.9,626.9 494.8,631.9 497.7,636.0 500.6,639.3 504.1,642.3 507.7,644.2 511.3,645.4 514.9,646.1 518.5,646.4 529.3,646.7 670.6,646.8" fill="none" stroke="#3c47a6" stroke-width="1.0" stroke-linejoin="round"/>
<path d="M384.0,690.5V770.1H670.6" fill="none" stroke="#6a6a6a" stroke-width="1.5"/>
<line x1="383.60" y1="690.50" x2="386.20" y2="690.50" stroke="#333333" stroke-width="1.1"/>
<text x="381.00" y="693.80" text-anchor="end" font-family="Liberation Sans, sans-serif" font-size="10" fill="#222">0.01</text>
<line x1="383.60" y1="730.30" x2="386.20" y2="730.30" stroke="#333333" stroke-width="1.1"/>
<text x="381.00" y="733.60" text-anchor="end" font-family="Liberation Sans, sans-serif" font-size="10" fill="#222">0.005</text>
<line x1="383.60" y1="770.10" x2="386.20" y2="770.10" stroke="#333333" stroke-width="1.1"/>
<text x="381.00" y="773.40" text-anchor="end" font-family="Liberation Sans, sans-serif" font-size="10" fill="#222">0</text>
<line x1="383.60" y1="770.10" x2="383.60" y2="767.50" stroke="#333333" stroke-width="1.1"/>
<text x="383.60" y="782.50" text-anchor="middle" font-family="Liberation Sans, sans-serif" font-size="10" fill="#222">0</text>
<line x1="441.00" y1="770.10" x2="441.00" y2="767.50" stroke="#333333" stroke-width="1.1"/>
<text x="441.00" y="782.50" text-anchor="middle" font-family="Liberation Sans, sans-serif" font-size="10" fill="#222">20</text>
<line x1="498.40" y1="770.10" x2="498.40" y2="767.50" stroke="#333333" stroke-width="1.1"/>
<text x="498.40" y="782.50" text-anchor="middle" font-family="Liberation Sans, sans-serif" font-size="10" fill="#222">40</text>
<line x1="555.80" y1="770.10" x2="555.80" y2="767.50" stroke="#333333" stroke-width="1.1"/>
<text x="555.80" y="782.50" text-anchor="middle" font-family="Liberation Sans, sans-serif" font-size="10" fill="#222">60</text>
<line x1="613.20" y1="770.10" x2="613.20" y2="767.50" stroke="#333333" stroke-width="1.1"/>
<text x="613.20" y="782.50" text-anchor="middle" font-family="Liberation Sans, sans-serif" font-size="10" fill="#222">80</text>
<line x1="670.60" y1="770.10" x2="670.60" y2="767.50" stroke="#333333" stroke-width="1.1"/>
<text x="670.60" y="782.50" text-anchor="middle" font-family="Liberation Sans, sans-serif" font-size="10" fill="#222">100</text>
<text x="527.10" y="681.6" text-anchor="middle" font-family="Liberation Sans, sans-serif" font-size="12" font-weight="bold" fill="#111">Soft Clipped</text>
<text x="341" y="682.5" font-family="Liberation Sans, sans-serif" font-size="20.8" fill="#111" style="stroke-width:0.6px">H</text>
<text transform="translate(350.2,730.30) rotate(-90)" text-anchor="middle" font-family="Liberation Sans, sans-serif" font-size="10" font-weight="bold" fill="#111">Density</text>
<path d="M396.8,690.5 400.3,690.5 401.7,694.4 402.4,695.7 405.8,700.3 414.9,714.8 423.9,730.0 430.1,738.3 433.6,742.0 439.1,746.6 441.9,748.2 447.5,750.6 450.3,751.5 452.3,751.8 466.2,751.8 469.7,751.5 473.9,750.6 491.2,745.8 496.8,744.5 509.3,741.9 525.2,738.9 548.8,735.2 581.5,730.7 598.1,728.2 605.8,727.4 612.0,727.1 612.7,732.2 614.1,754.4 615.5,767.9 616.2,770.1 618.9,770.1" fill="none" stroke="#e0303a" stroke-width="0.9" stroke-linejoin="round"/>
<path d="M396.8,690.5 400.3,690.5 401.0,693.1 402.4,696.1 405.1,699.8 414.2,715.3 422.5,730.1 426.0,735.2 428.7,738.9 432.2,742.6 437.1,746.7 439.8,748.4 445.4,750.9 447.5,751.5 449.6,751.8 466.2,752.0 469.7,751.7 473.9,750.9 490.5,746.6 495.4,745.5 504.4,743.8 528.0,739.7 550.2,736.4 581.5,732.3 598.1,729.9 605.8,729.1 612.0,728.8 612.7,733.7 614.1,755.0 615.5,768.0 616.2,770.1 618.9,770.1" fill="none" stroke="#e0303a" stroke-width="0.9" stroke-linejoin="round"/>
<path d="M396.8,690.5 399.6,690.5 400.3,690.7 401.0,693.6 402.4,696.5 405.1,700.5 412.8,714.3 421.1,730.0 424.6,735.3 427.3,739.2 430.8,743.1 435.0,746.8 437.8,748.5 443.3,751.1 445.4,751.6 446.8,751.8 466.9,752.1 469.7,752.0 473.9,751.2 494.7,746.4 531.5,740.5 551.6,737.6 581.5,733.9 598.1,731.5 605.8,730.8 612.0,730.6 612.7,735.3 614.1,755.6 615.5,768.1 616.2,770.1 618.9,770.1" fill="none" stroke="#e0303a" stroke-width="0.9" stroke-linejoin="round"/>
<path d="M396.8,690.5 398.2,690.5 399.6,715.5 400.3,722.8 401.0,725.3 402.4,729.1 403.7,731.8 405.1,733.7 411.4,740.0 414.2,742.1 416.9,743.9 424.6,747.3 432.2,751.8 439.1,755.2 454.4,761.2 455.1,761.2 458.6,760.4 473.9,756.7 485.7,753.5 512.7,746.8 523.1,744.6 534.2,742.6 550.9,740.2 569.0,738.2 589.1,736.6 612.0,735.2 615.5,767.2 616.2,770.1 618.9,770.1" fill="none" stroke="#e0303a" stroke-width="0.9" stroke-linejoin="round"/>
<path d="M396.8,690.5 398.2,690.5 398.9,699.9 399.6,713.4 400.3,720.4 401.0,723.1 402.4,727.2 404.4,731.1 410.7,738.1 413.5,740.5 416.2,742.5 423.2,746.0 430.8,750.9 437.1,754.3 440.5,756.0 448.9,759.4 449.6,759.6 455.8,759.9 464.8,759.5 471.1,759.1 493.3,756.4 509.3,753.8 521.1,752.2 534.2,750.7 548.1,749.5 577.3,747.6 612.0,746.2 615.5,768.1 616.2,770.1 618.9,770.1" fill="none" stroke="#e0303a" stroke-width="0.9" stroke-linejoin="round"/>
<path d="M396.8,690.5 398.2,690.5 398.9,691.2 399.6,705.7 400.3,714.5 401.0,717.5 402.4,722.0 403.7,725.2 405.1,727.5 411.4,734.6 413.5,736.6 416.2,738.7 419.0,740.5 426.0,744.0 432.9,748.7 437.8,751.6 441.2,753.4 444.7,755.0 445.4,755.2 450.9,754.3 460.0,753.6 473.9,751.6 501.6,746.3 521.1,742.4 532.2,740.6 543.3,739.0 558.5,737.3 574.5,735.9 592.6,734.7 612.0,733.7 615.5,767.0 616.2,770.1 618.9,770.1" fill="none" stroke="#e0303a" stroke-width="0.9" stroke-linejoin="round"/>
<path d="M396.8,690.5 398.2,690.5 398.9,705.8 400.3,724.2 401.0,727.5 401.7,729.4 403.0,732.4 404.4,734.6 406.5,736.9 411.4,740.7 414.2,742.7 416.9,744.3 421.1,746.2 429.4,749.1 438.5,753.3 446.1,756.4 450.3,757.8 450.9,757.7 457.9,756.4 467.6,755.2 482.9,752.9 498.8,750.3 529.4,745.6 550.2,743.0 564.1,741.7 578.7,740.6 612.0,738.8 615.5,767.5 616.2,770.1 618.9,770.1" fill="none" stroke="#e0303a" stroke-width="0.9" stroke-linejoin="round"/>
<path d="M396.8,690.5 397.5,692.0 398.9,722.2 400.3,735.8 401.0,738.4 403.0,742.0 404.4,743.6 405.8,744.8 412.8,748.9 418.3,751.2 421.8,752.3 430.1,754.4 438.5,757.2 444.7,759.1 454.4,761.4 460.7,760.1 498.8,753.5 527.3,749.3 539.1,747.7 555.1,746.1 572.4,744.7 591.2,743.5 612.0,742.6 615.5,767.8 616.2,770.1 618.9,770.1" fill="none" stroke="#e0303a" stroke-width="0.9" stroke-linejoin="round"/>
<path d="M396.8,690.5 398.2,690.5 398.9,694.5 400.3,715.9 401.0,720.1 403.0,725.8 405.1,729.4 407.2,731.7 412.1,736.1 414.9,738.3 417.6,740.1 421.8,742.3 430.8,746.0 439.1,750.5 445.4,753.4 459.3,751.2 470.4,750.3 487.7,748.2 534.9,741.4 550.2,739.5 564.1,738.1 578.7,737.0 612.0,735.2 615.5,767.2 616.2,770.1 618.9,770.1" fill="none" stroke="#e0303a" stroke-width="0.9" stroke-linejoin="round"/>
<path d="M396.8,690.5 398.2,690.5 400.3,719.5 401.0,723.6 403.0,728.8 405.1,732.2 407.2,734.4 412.8,738.9 415.5,740.9 418.3,742.5 422.5,744.4 430.8,747.4 440.5,752.2 449.6,755.9 453.7,757.3 460.7,756.9 471.1,756.8 483.6,756.2 491.2,755.7 516.9,753.3 539.8,750.8 557.2,749.3 582.8,747.8 612.0,746.6 615.5,768.1 616.2,770.1 618.9,770.1" fill="none" stroke="#e0303a" stroke-width="0.9" stroke-linejoin="round"/>
<path d="M396.8,690.5 397.5,690.5 398.2,700.0 398.9,715.1 399.6,724.1 400.3,730.7 401.0,733.7 402.4,736.6 403.7,738.8 405.1,740.4 406.5,741.6 414.2,746.5 416.9,747.9 420.4,749.3 430.1,752.2 438.5,755.5 444.7,757.6 453.7,760.1 460.7,757.8 474.6,753.9 496.8,748.2 510.6,745.1 534.9,740.3 551.6,737.7 569.7,735.6 589.8,733.9 612.0,732.5 615.5,766.9 616.2,770.1 618.9,770.1" fill="none" stroke="#e0303a" stroke-width="0.9" stroke-linejoin="round"/>
<path d="M396.8,690.5 397.5,690.5 398.2,697.9 398.9,715.5 399.6,726.1 400.3,731.4 401.7,735.3 403.0,737.9 405.1,740.4 409.3,744.1 411.4,745.7 414.2,747.5 416.9,748.9 423.2,751.2 430.8,755.1 439.1,758.5 451.6,762.7 467.6,759.2 480.1,756.1 506.5,750.0 517.6,747.8 530.1,745.7 547.4,743.5 566.9,741.6 588.4,740.1 612.0,738.9 615.5,767.5 616.2,770.1 618.9,770.1" fill="none" stroke="#e0303a" stroke-width="0.9" stroke-linejoin="round"/>
<path d="M396.8,690.5 397.5,690.5 398.2,701.7 398.9,718.3 399.6,728.3 400.3,733.4 402.4,738.4 403.7,740.5 405.1,742.0 410.0,746.0 413.5,748.2 416.9,749.9 423.9,752.4 430.8,755.7 438.5,758.7 453.0,763.3 455.1,763.8 480.1,756.4 503.0,750.2 515.5,747.3 528.7,744.7 546.1,742.1 565.5,739.9 587.0,738.1 612.0,736.7 615.5,767.3 616.2,770.1 618.9,770.1" fill="none" stroke="#e0303a" stroke-width="0.9" stroke-linejoin="round"/>
<path d="M396.8,690.5 398.2,690.5 398.9,690.7 400.3,713.6 401.0,717.5 403.0,723.5 404.4,726.3 405.8,728.3 412.8,735.2 417.6,738.9 421.1,740.9 428.7,744.3 437.8,749.6 445.4,753.5 446.8,753.6 456.5,753.1 466.9,753.3 482.9,752.5 510.6,749.6 534.2,746.6 553.0,744.7 580.1,742.8 612.0,741.4 615.5,767.7 616.2,770.1 618.9,770.1" fill="none" stroke="#e0303a" stroke-width="0.9" stroke-linejoin="round"/>
<path d="M396.8,690.5 397.5,690.5 398.9,716.7 400.3,731.6 401.0,734.9 402.4,737.6 403.7,739.7 405.1,741.3 406.5,742.5 414.2,747.1 419.7,749.5 423.2,750.6 431.5,752.7 442.6,756.7 450.9,759.1 462.7,756.9 472.5,755.8 506.5,751.1 544.0,746.7 559.2,745.2 575.2,744.1 592.6,743.1 612.0,742.3 615.5,767.8 616.2,770.1 618.9,770.1" fill="none" stroke="#e0303a" stroke-width="0.9" stroke-linejoin="round"/>
<path d="M396.8,690.5 397.5,691.0 398.9,724.2 399.6,732.7 400.3,737.8 401.0,739.5 402.4,742.2 403.7,744.0 405.1,745.3 411.4,749.4 414.2,750.8 417.6,752.2 425.3,754.4 432.2,757.1 439.1,759.4 447.5,761.6 511.3,750.3 521.8,748.6 532.9,747.2 549.5,745.4 568.3,743.9 589.1,742.7 612.0,741.8 615.5,767.7 616.2,770.1 618.9,770.1" fill="none" stroke="#e0303a" stroke-width="0.9" stroke-linejoin="round"/>
<path d="M396.8,690.5 398.2,690.5 398.9,694.6 399.6,707.9 400.3,716.7 401.0,719.9 402.4,724.1 403.7,727.2 405.1,729.3 406.5,731.0 412.1,736.6 414.9,738.8 417.6,740.7 420.4,742.2 427.3,745.3 434.3,749.5 440.5,752.9 444.7,754.8 448.9,756.5 449.6,756.6 453.7,756.3 463.4,756.2 479.4,755.0 506.5,751.5 530.1,748.0 553.7,745.4 580.8,743.5 612.0,742.1 615.5,767.7 616.2,770.1 618.9,770.1" fill="none" stroke="#e0303a" stroke-width="0.9" stroke-linejoin="round"/>
<path d="M396.8,690.5 398.2,690.5 398.9,696.1 400.3,716.7 401.0,721.3 403.0,726.7 405.1,730.2 407.2,732.5 412.8,737.2 415.5,739.3 418.3,741.0 422.5,743.0 432.2,746.7 439.8,750.7 444.0,752.6 461.4,749.3 472.5,748.2 488.4,746.0 506.5,743.2 548.1,737.4 562.0,735.9 577.3,734.7 593.9,733.6 612.0,732.6 615.5,766.9 616.2,770.1 618.9,770.1" fill="none" stroke="#e0303a" stroke-width="0.9" stroke-linejoin="round"/>
<path d="M396.8,690.5 398.2,690.5 398.9,699.1 399.6,712.6 400.3,720.0 402.4,726.7 403.7,729.6 405.1,731.6 411.4,738.4 414.2,740.6 416.9,742.5 423.9,745.9 431.5,750.8 437.8,754.2 441.2,755.8 453.0,760.7 457.9,760.7 466.9,760.2 473.2,759.6 495.4,756.7 510.6,754.2 521.1,752.7 532.9,751.3 545.4,750.1 559.9,748.9 575.9,747.9 612.0,746.4 615.5,768.1 616.2,770.1 618.9,770.1" fill="none" stroke="#e0303a" stroke-width="0.9" stroke-linejoin="round"/>
<path d="M396.8,690.5 397.5,690.5 398.2,693.6 398.9,711.1 399.6,721.7 400.3,728.5 401.7,732.6 403.7,736.5 405.8,738.9 410.0,742.4 412.8,744.4 415.5,746.1 419.0,747.8 426.0,750.2 433.6,753.9 442.6,757.6 444.7,758.2 451.6,757.8 461.4,757.8 473.2,757.1 501.6,754.3 527.3,751.3 546.1,749.6 575.9,747.8 612.0,746.5 615.5,768.1 616.2,770.1 618.9,770.1" fill="none" stroke="#e0303a" stroke-width="0.9" stroke-linejoin="round"/>
<path d="M396.8,690.5 397.5,693.1 398.9,724.5 399.6,732.6 400.3,737.9 401.0,739.8 402.4,742.3 403.7,744.2 405.1,745.5 412.1,749.8 417.6,752.2 426.7,754.6 441.2,759.5 462.7,761.7 475.2,762.4 482.9,762.5 503.0,762.3 553.7,760.4 612.0,759.4 615.5,769.2 616.2,770.1 618.9,770.1" fill="none" stroke="#e0303a" stroke-width="0.9" stroke-linejoin="round"/>
<path d="M396.8,690.5 397.5,690.5 398.2,700.2 398.9,716.0 399.6,725.6 400.3,731.9 401.7,735.8 403.0,738.4 404.4,740.2 406.5,742.1 411.4,745.6 414.9,747.6 419.0,749.5 427.3,752.2 433.6,754.8 440.5,757.5 444.0,758.2 453.0,759.2 462.7,760.6 474.6,761.4 482.9,761.6 506.5,761.4 534.9,760.0 562.0,759.1 612.0,758.2 615.5,769.1 616.2,770.1 618.9,770.1" fill="none" stroke="#e0303a" stroke-width="0.9" stroke-linejoin="round"/>
<path d="M396.8,690.5 397.5,692.8 398.9,724.3 399.6,732.4 400.3,737.8 401.0,739.7 402.4,742.2 403.7,744.1 405.1,745.4 412.1,749.7 417.6,752.1 426.7,754.6 441.2,759.4 453.0,760.1 462.1,760.9 471.8,761.2 481.5,761.3 502.3,760.7 534.2,759.0 560.6,758.0 612.0,757.0 615.5,769.0 616.2,770.1 618.9,770.1" fill="none" stroke="#e0303a" stroke-width="0.9" stroke-linejoin="round"/>
<path d="M396.8,690.5 398.2,690.5 398.9,705.3 399.6,732.7 400.3,743.4 401.0,747.8 401.7,749.8 402.4,750.8 403.7,752.0 409.3,755.1 415.5,757.7 420.4,759.3 425.3,760.5 436.4,762.6 450.9,764.4 469.0,765.7 494.7,766.9 527.3,768.0 566.2,768.7 612.0,769.3 615.5,770.0 618.9,770.1" fill="none" stroke="#3c47a6" stroke-width="1.0" stroke-linejoin="round"/>
<path d="M396.8,690.5 398.9,690.5 399.6,692.9 401.0,702.4 402.4,709.9 404.4,718.5 405.8,722.9 407.9,728.2 410.0,732.4 412.1,735.8 414.9,739.6 417.6,742.6 420.4,745.2 423.9,747.9 427.3,750.2 431.5,752.5 435.7,754.5 439.8,756.1 448.9,758.8 460.0,761.1 473.2,762.9 489.1,764.4 511.3,765.8 539.1,767.0 572.4,768.0 612.0,768.7 615.5,770.0 618.9,770.1" fill="none" stroke="#3c47a6" stroke-width="1.0" stroke-linejoin="round"/>
<path d="M396.8,690.5 401.0,690.5 401.7,691.3 403.0,699.3 404.4,706.0 405.8,711.5 407.9,718.4 410.0,723.9 412.1,728.4 414.2,732.3 416.9,736.6 419.7,740.2 422.5,743.3 425.3,746.0 428.7,748.8 432.2,751.1 435.7,753.1 439.8,755.1 444.0,756.8 452.3,759.2 462.1,761.2 473.2,762.8 487.0,764.1 507.9,765.3 535.6,766.5 571.0,767.5 612.0,768.2 615.5,769.9 616.2,770.1 618.9,770.1" fill="none" stroke="#3c47a6" stroke-width="1.0" stroke-linejoin="round"/>
<path d="M396.8,690.5 397.5,690.5 398.2,692.8 399.6,701.4 401.0,708.1 402.4,713.4 403.7,717.7 406.5,724.2 408.6,727.9 410.7,730.9 413.5,734.3 416.9,737.8 420.4,740.7 424.6,743.8 429.4,746.8 434.3,749.4 439.1,751.6 444.7,753.8 455.1,757.1 466.9,759.7 480.1,761.9 496.1,763.7 516.2,765.2 541.2,766.4 572.4,767.4 612.0,768.2 615.5,769.9 616.2,770.1 618.9,770.1" fill="none" stroke="#3c47a6" stroke-width="1.0" stroke-linejoin="round"/>
<path d="M396.8,690.5 397.5,690.5 399.6,705.4 401.0,713.2 402.4,719.3 403.7,724.3 405.1,728.3 406.5,731.6 408.6,735.7 410.7,739.0 413.5,742.5 416.2,745.3 419.0,747.7 422.5,750.1 426.0,752.1 430.1,754.2 434.3,755.8 442.6,758.3 452.3,760.4 464.1,762.1 478.7,763.4 500.9,764.8 530.8,766.0 568.3,767.1 612.0,768.0 615.5,769.9 616.2,770.1 618.9,770.1" fill="none" stroke="#3c47a6" stroke-width="1.0" stroke-linejoin="round"/>
<path d="M396.8,690.5 401.0,690.5 401.7,691.1 403.0,698.5 404.4,704.6 405.8,709.6 407.9,715.7 410.0,720.7 412.8,726.0 415.5,730.4 418.3,734.1 421.1,737.3 424.6,740.8 428.0,743.8 432.2,746.9 436.4,749.5 440.5,751.8 445.4,754.0 450.3,755.9 460.0,758.8 471.1,761.2 483.6,763.1 498.8,764.6 519.0,766.0 543.3,767.1 574.5,768.0 612.0,768.7 615.5,770.0 618.9,770.1" fill="none" stroke="#3c47a6" stroke-width="1.0" stroke-linejoin="round"/>
<path d="M396.8,690.5 399.6,690.5 400.3,690.8 401.7,698.2 403.0,704.2 404.4,709.0 406.5,714.9 408.6,719.5 410.7,723.3 413.5,727.5 416.9,731.9 420.4,735.6 423.9,738.8 428.0,742.2 432.2,745.2 437.1,748.2 441.9,750.7 446.8,753.0 452.3,755.1 462.7,758.4 474.6,761.0 487.7,763.2 503.7,764.9 523.1,766.3 546.7,767.4 575.9,768.3 612.0,768.9 615.5,770.0 618.9,770.1" fill="none" stroke="#3c47a6" stroke-width="1.0" stroke-linejoin="round"/>
<path d="M396.8,690.5 397.5,690.5 398.2,691.9 399.6,702.2 401.0,710.2 402.4,716.4 403.7,721.4 405.1,725.4 406.5,728.8 407.9,731.6 410.0,735.1 412.1,737.9 414.9,741.1 417.6,743.7 421.1,746.4 425.3,749.1 429.4,751.4 433.6,753.3 438.5,755.2 448.2,758.1 459.3,760.4 472.5,762.4 488.4,764.0 510.6,765.5 537.7,766.7 571.7,767.7 612.0,768.5 615.5,770.0 618.9,770.1" fill="none" stroke="#3c47a6" stroke-width="1.0" stroke-linejoin="round"/>
<path d="M396.8,690.5 401.7,690.5 404.4,706.1 405.8,712.2 407.9,719.6 409.3,723.6 411.4,728.7 413.5,732.8 416.2,737.4 418.3,740.4 421.1,743.7 423.9,746.5 427.3,749.4 430.8,751.9 434.3,753.9 438.5,755.9 442.6,757.6 450.9,760.1 460.0,762.0 471.8,763.6 485.7,764.8 506.5,766.0 534.2,767.0 569.7,767.8 612.0,768.6 615.5,770.0 618.9,770.1" fill="none" stroke="#3c47a6" stroke-width="1.0" stroke-linejoin="round"/>
<path d="M396.8,690.5 397.5,690.5 400.3,705.6 401.7,711.3 403.0,715.9 404.4,719.7 406.5,724.2 408.6,727.7 410.7,730.6 414.2,734.6 417.6,737.9 421.8,741.2 426.0,744.1 430.8,747.1 435.7,749.6 441.2,752.1 446.8,754.3 452.3,756.1 457.9,757.7 470.4,760.5 484.3,762.8 500.2,764.5 520.4,766.0 544.0,767.1 573.8,768.0 612.0,768.7 615.5,770.0 618.9,770.1" fill="none" stroke="#3c47a6" stroke-width="1.0" stroke-linejoin="round"/>
<path d="M396.8,690.5 398.9,690.5 401.0,701.3 402.4,707.0 403.7,711.7 405.8,717.2 407.2,720.2 409.3,723.9 411.4,727.1 414.2,730.6 417.6,734.4 421.1,737.6 425.3,741.0 430.1,744.5 435.0,747.4 440.5,750.4 446.1,752.9 451.6,755.0 457.2,756.9 462.7,758.5 475.2,761.3 489.1,763.5 505.1,765.2 524.5,766.7 547.4,767.7 575.9,768.5 612.0,769.1 615.5,770.0 618.9,770.1" fill="none" stroke="#3c47a6" stroke-width="1.0" stroke-linejoin="round"/>
<path d="M396.8,690.5 398.2,690.5 401.7,711.0 403.0,717.1 404.4,722.2 407.2,730.1 408.6,733.3 410.7,737.3 412.8,740.6 415.5,744.3 418.3,747.3 421.8,750.4 425.3,753.0 428.7,755.1 432.9,757.1 437.1,758.8 445.4,761.2 454.4,763.0 465.5,764.4 480.1,765.6 500.9,766.6 530.1,767.5 567.6,768.3 612.0,768.9 615.5,770.0 618.9,770.1" fill="none" stroke="#3c47a6" stroke-width="1.0" stroke-linejoin="round"/>
<path d="M396.8,690.5 400.3,690.6 402.4,704.5 403.7,711.3 405.1,716.7 406.5,721.1 408.6,726.4 410.7,730.5 413.5,734.8 416.2,738.2 419.0,741.1 422.5,744.2 426.0,746.8 430.1,749.4 434.3,751.7 439.1,753.9 444.0,755.8 453.7,758.7 465.5,761.2 478.7,763.2 494.0,764.7 514.8,766.1 540.5,767.2 572.4,768.1 612.0,768.8 615.5,770.0 618.9,770.1" fill="none" stroke="#3c47a6" stroke-width="1.0" stroke-linejoin="round"/>
<path d="M396.8,690.5 398.2,690.5 398.9,691.5 400.3,701.7 401.7,709.5 403.0,715.6 404.4,720.4 405.8,724.3 407.2,727.4 408.6,730.0 410.7,733.3 413.5,736.7 416.2,739.4 419.7,742.3 423.2,744.7 427.3,747.2 432.2,749.7 437.1,751.9 441.9,753.7 452.3,756.9 464.8,759.7 478.7,761.9 495.4,763.8 516.9,765.5 542.6,766.7 573.8,767.8 612.0,768.6 615.5,770.0 618.9,770.1" fill="none" stroke="#3c47a6" stroke-width="1.0" stroke-linejoin="round"/>
<path d="M396.8,690.5 399.6,690.5 400.3,692.5 401.7,701.7 403.0,709.1 404.4,715.0 405.8,719.9 407.2,724.0 409.3,729.1 411.4,733.2 413.5,736.6 415.5,739.5 418.3,742.8 421.1,745.5 424.6,748.4 428.0,750.9 432.2,753.3 436.4,755.3 440.5,756.9 448.9,759.5 458.6,761.5 469.7,763.0 483.6,764.3 503.7,765.5 531.5,766.5 568.3,767.5 612.0,768.2 615.5,769.9 616.2,770.1 618.9,770.1" fill="none" stroke="#3c47a6" stroke-width="1.0" stroke-linejoin="round"/>
<path d="M396.8,690.5 398.9,690.5 399.6,692.0 401.7,706.9 403.7,716.9 405.1,721.8 406.5,725.6 408.6,730.0 410.7,733.4 412.8,736.1 415.5,738.9 418.3,741.3 421.8,743.7 426.0,746.2 430.1,748.4 435.0,750.6 440.5,752.8 446.1,754.6 451.6,756.2 464.1,759.0 478.0,761.3 494.7,763.2 516.2,765.0 541.9,766.3 573.8,767.4 612.0,768.3 615.5,770.0 618.9,770.1" fill="none" stroke="#3c47a6" stroke-width="1.0" stroke-linejoin="round"/>
<path d="M396.8,690.5 397.5,690.5 398.2,691.7 400.3,708.3 401.7,716.2 403.0,722.3 405.1,729.0 406.5,732.4 407.9,735.2 410.0,738.5 412.1,741.1 414.9,743.9 417.6,746.1 421.1,748.4 424.6,750.4 428.7,752.3 433.6,754.2 443.3,757.2 454.4,759.6 467.6,761.6 483.6,763.3 505.8,764.8 534.2,766.1 569.7,767.2 612.0,768.1 615.5,769.9 616.2,770.1 618.9,770.1" fill="none" stroke="#3c47a6" stroke-width="1.0" stroke-linejoin="round"/>
<path d="M396.8,690.5 398.2,690.5 398.9,691.9 401.0,707.8 403.0,718.5 404.4,723.7 405.8,727.8 407.2,731.1 409.3,735.1 411.4,738.1 413.5,740.6 416.2,743.2 419.0,745.4 422.5,747.7 426.7,750.0 430.8,751.9 435.7,753.8 445.4,756.7 456.5,759.1 469.7,761.2 485.0,762.8 507.2,764.4 535.6,765.8 570.3,767.0 612.0,767.9 615.5,769.9 616.2,770.1 618.9,770.1" fill="none" stroke="#3c47a6" stroke-width="1.0" stroke-linejoin="round"/>
<path d="M396.8,690.5 398.9,690.5 399.6,692.7 401.0,701.1 402.4,707.6 403.7,712.7 405.8,718.6 408.6,724.3 410.7,727.6 412.8,730.3 416.2,734.0 419.7,737.1 423.9,740.3 428.0,743.1 432.9,746.0 438.5,748.9 444.0,751.3 449.6,753.5 455.1,755.3 461.4,757.1 473.9,760.0 488.4,762.4 504.4,764.3 524.5,765.9 548.1,767.2 576.6,768.1 612.0,768.8 615.5,770.0 618.9,770.1" fill="none" stroke="#3c47a6" stroke-width="1.0" stroke-linejoin="round"/>
<path d="M396.8,690.5 398.9,690.5 399.6,693.0 401.0,703.3 402.4,711.3 404.4,720.2 405.8,724.6 407.2,728.3 409.3,732.6 411.4,736.1 413.5,738.9 416.2,742.0 419.7,745.1 423.2,747.7 427.3,750.4 431.5,752.6 435.7,754.5 440.5,756.4 450.3,759.3 461.4,761.7 474.6,763.6 490.5,765.1 511.3,766.4 537.0,767.3 570.3,768.1 612.0,768.8 615.5,770.0 618.9,770.1" fill="none" stroke="#3c47a6" stroke-width="1.0" stroke-linejoin="round"/>
<path d="M396.8,690.5 397.5,694.3 399.6,710.2 401.7,720.8 403.0,725.9 404.4,729.9 405.8,733.2 407.2,735.8 409.3,739.0 411.4,741.5 414.2,744.1 416.9,746.3 420.4,748.6 424.6,750.9 429.4,753.1 434.3,755.1 439.1,756.7 444.7,758.3 456.5,760.8 470.4,762.9 487.0,764.6 507.9,766.0 534.2,767.0 568.3,767.9 612.0,768.6 615.5,770.0 618.9,770.1" fill="none" stroke="#3c47a6" stroke-width="1.0" stroke-linejoin="round"/>
<path d="M396.8,690.5 400.3,690.5 402.4,699.0 403.7,703.8 405.1,707.8 407.2,712.8 409.3,716.9 412.1,721.5 415.5,726.3 419.0,730.3 422.5,733.9 426.7,737.6 430.8,740.9 435.0,743.7 439.8,746.7 444.7,749.2 449.6,751.4 455.1,753.6 465.5,756.9 477.3,759.6 490.5,761.8 505.1,763.6 524.5,765.1 547.4,766.4 575.9,767.3 612.0,768.2 615.5,769.9 616.2,770.1 618.9,770.1" fill="none" stroke="#3c47a6" stroke-width="1.0" stroke-linejoin="round"/>
<path d="M396.8,690.5 399.6,690.5 400.3,691.2 401.7,699.0 403.0,705.3 404.4,710.4 406.5,716.7 408.6,721.7 410.7,725.8 413.5,730.4 416.2,734.2 419.0,737.5 422.5,741.0 426.0,744.1 430.1,747.2 434.3,749.8 438.5,752.1 442.6,754.1 447.5,756.0 452.3,757.6 457.2,758.9 467.6,761.2 479.4,762.9 494.0,764.4 513.4,765.7 538.4,766.7 571.0,767.6 612.0,768.3 615.5,770.0 618.9,770.1" fill="none" stroke="#3c47a6" stroke-width="1.0" stroke-linejoin="round"/>
<line x1="447.30" y1="6.40" x2="463.40" y2="6.40" stroke="#3c47a6" stroke-width="1.0"/>
<circle cx="465.4" cy="6.4" r="2.6" fill="#e0303a" stroke="#3a1a1a" stroke-width="0.5"/>
<text x="475.6" y="10" font-family="Liberation Sans, sans-serif" font-size="10.3" fill="#222">Protocol 1</text>
<line x1="536.40" y1="6.40" x2="551.00" y2="6.40" stroke="#555" stroke-width="1.0"/>
<circle cx="552.4" cy="6.4" r="2.6" fill="#2e3591" stroke="#1a1a3a" stroke-width="0.5"/>
<text x="564.1" y="10" font-family="Liberation Sans, sans-serif" font-size="10.3" fill="#222">Protocol 2</text></svg>
</body></html>
